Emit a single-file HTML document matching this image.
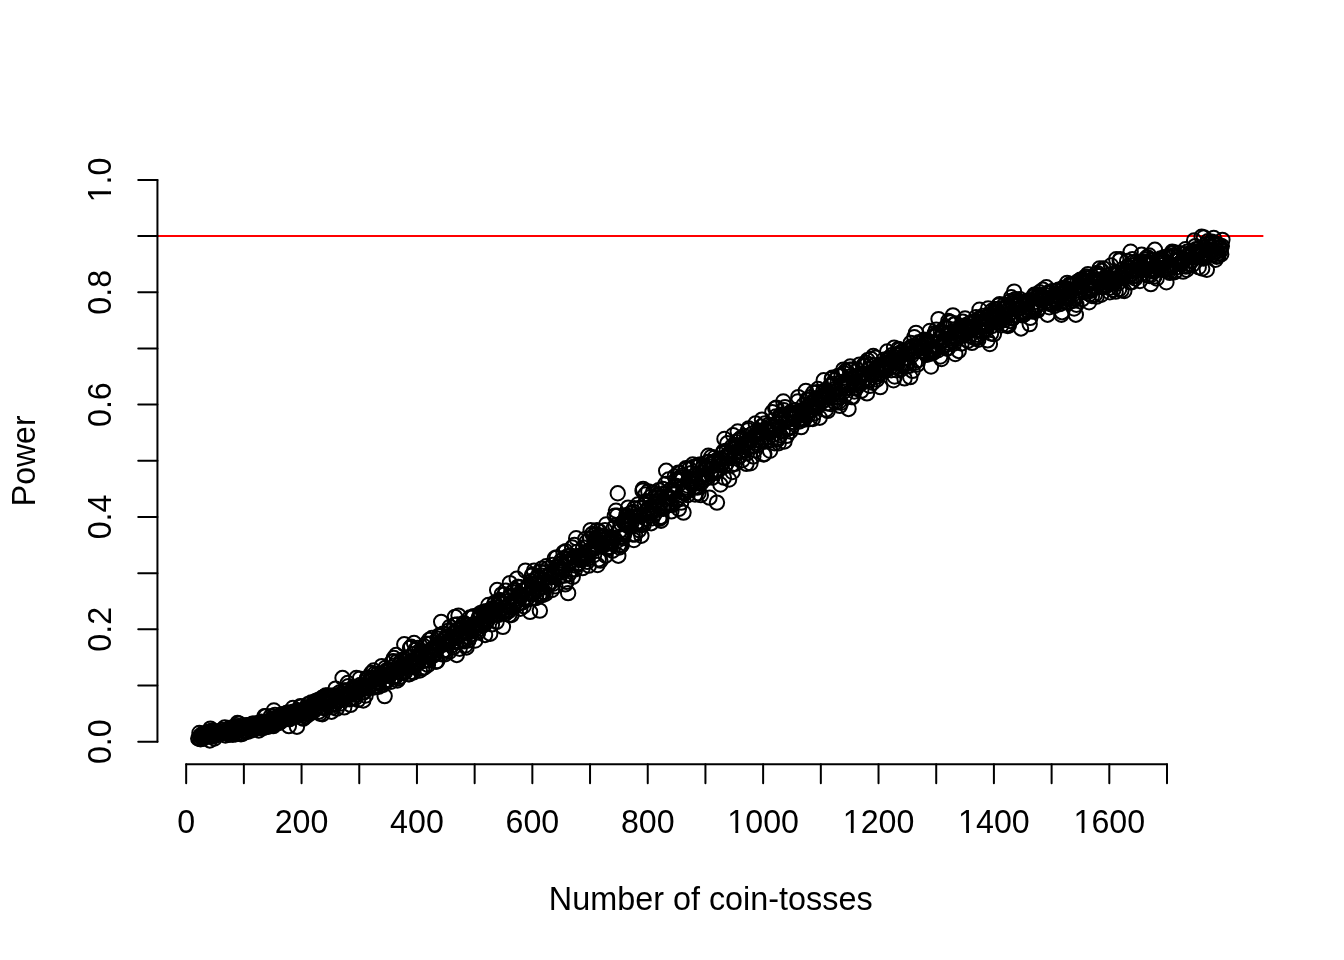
<!DOCTYPE html>
<html lang="en"><head><meta charset="utf-8"><title>Power vs number of coin-tosses</title>
<style>
html,body{margin:0;padding:0;background:#fff;}
body{width:1344px;height:960px;overflow:hidden;}
svg{display:block;}
text{font-family:"Liberation Sans",Arial,Helvetica,sans-serif;font-size:32px;fill:#000;}
</style></head><body>
<svg width="1344" height="960" viewBox="0 0 1344 960">
<rect width="1344" height="960" fill="#fff"/>
<line x1="157.44" y1="236.09" x2="1263.36" y2="236.09" stroke="#ff0000" stroke-width="2"/>
<g fill="none" stroke="#000" stroke-width="2">
<circle cx="198.29" cy="738.57" r="7.2"/>
<circle cx="198.86" cy="738.57" r="7.2"/>
<circle cx="199.44" cy="732.95" r="7.2"/>
<circle cx="200.02" cy="736.07" r="7.2"/>
<circle cx="200.59" cy="739.19" r="7.2"/>
<circle cx="201.17" cy="735.45" r="7.2"/>
<circle cx="201.75" cy="736.07" r="7.2"/>
<circle cx="202.32" cy="738.57" r="7.2"/>
<circle cx="202.90" cy="733.58" r="7.2"/>
<circle cx="203.48" cy="738.57" r="7.2"/>
<circle cx="204.06" cy="734.20" r="7.2"/>
<circle cx="204.63" cy="734.82" r="7.2"/>
<circle cx="205.21" cy="736.70" r="7.2"/>
<circle cx="205.79" cy="733.58" r="7.2"/>
<circle cx="206.36" cy="734.20" r="7.2"/>
<circle cx="206.94" cy="732.95" r="7.2"/>
<circle cx="207.52" cy="735.45" r="7.2"/>
<circle cx="208.09" cy="734.82" r="7.2"/>
<circle cx="208.67" cy="731.70" r="7.2"/>
<circle cx="209.25" cy="735.45" r="7.2"/>
<circle cx="209.83" cy="740.44" r="7.2"/>
<circle cx="210.40" cy="728.58" r="7.2"/>
<circle cx="210.98" cy="736.07" r="7.2"/>
<circle cx="211.56" cy="736.70" r="7.2"/>
<circle cx="212.13" cy="730.45" r="7.2"/>
<circle cx="212.71" cy="734.82" r="7.2"/>
<circle cx="213.29" cy="732.33" r="7.2"/>
<circle cx="213.86" cy="732.33" r="7.2"/>
<circle cx="214.44" cy="738.57" r="7.2"/>
<circle cx="215.02" cy="731.70" r="7.2"/>
<circle cx="215.59" cy="735.45" r="7.2"/>
<circle cx="216.17" cy="734.82" r="7.2"/>
<circle cx="216.75" cy="732.33" r="7.2"/>
<circle cx="217.33" cy="731.70" r="7.2"/>
<circle cx="217.90" cy="734.20" r="7.2"/>
<circle cx="218.48" cy="733.58" r="7.2"/>
<circle cx="219.06" cy="732.33" r="7.2"/>
<circle cx="219.63" cy="731.70" r="7.2"/>
<circle cx="220.21" cy="733.58" r="7.2"/>
<circle cx="220.79" cy="733.58" r="7.2"/>
<circle cx="221.36" cy="731.70" r="7.2"/>
<circle cx="221.94" cy="729.83" r="7.2"/>
<circle cx="222.52" cy="731.70" r="7.2"/>
<circle cx="223.10" cy="732.33" r="7.2"/>
<circle cx="223.67" cy="731.70" r="7.2"/>
<circle cx="224.25" cy="731.70" r="7.2"/>
<circle cx="224.83" cy="727.33" r="7.2"/>
<circle cx="225.40" cy="735.45" r="7.2"/>
<circle cx="225.98" cy="731.70" r="7.2"/>
<circle cx="226.56" cy="731.70" r="7.2"/>
<circle cx="227.13" cy="732.95" r="7.2"/>
<circle cx="227.71" cy="732.95" r="7.2"/>
<circle cx="228.29" cy="730.45" r="7.2"/>
<circle cx="228.87" cy="734.82" r="7.2"/>
<circle cx="229.44" cy="727.96" r="7.2"/>
<circle cx="230.02" cy="734.20" r="7.2"/>
<circle cx="230.60" cy="729.21" r="7.2"/>
<circle cx="231.17" cy="732.33" r="7.2"/>
<circle cx="231.75" cy="727.96" r="7.2"/>
<circle cx="232.33" cy="732.95" r="7.2"/>
<circle cx="232.90" cy="734.82" r="7.2"/>
<circle cx="233.48" cy="727.96" r="7.2"/>
<circle cx="234.06" cy="729.83" r="7.2"/>
<circle cx="234.63" cy="727.96" r="7.2"/>
<circle cx="235.21" cy="726.71" r="7.2"/>
<circle cx="235.79" cy="734.20" r="7.2"/>
<circle cx="236.37" cy="726.71" r="7.2"/>
<circle cx="236.94" cy="733.58" r="7.2"/>
<circle cx="237.52" cy="722.96" r="7.2"/>
<circle cx="238.10" cy="729.83" r="7.2"/>
<circle cx="238.67" cy="726.09" r="7.2"/>
<circle cx="239.25" cy="723.59" r="7.2"/>
<circle cx="239.83" cy="729.21" r="7.2"/>
<circle cx="240.40" cy="726.09" r="7.2"/>
<circle cx="240.98" cy="734.20" r="7.2"/>
<circle cx="241.56" cy="727.96" r="7.2"/>
<circle cx="242.14" cy="732.95" r="7.2"/>
<circle cx="242.71" cy="733.58" r="7.2"/>
<circle cx="243.29" cy="730.45" r="7.2"/>
<circle cx="243.87" cy="727.33" r="7.2"/>
<circle cx="244.44" cy="730.45" r="7.2"/>
<circle cx="245.02" cy="731.08" r="7.2"/>
<circle cx="245.60" cy="726.09" r="7.2"/>
<circle cx="246.17" cy="725.46" r="7.2"/>
<circle cx="246.75" cy="725.46" r="7.2"/>
<circle cx="247.33" cy="725.46" r="7.2"/>
<circle cx="247.90" cy="731.70" r="7.2"/>
<circle cx="248.48" cy="725.46" r="7.2"/>
<circle cx="249.06" cy="726.71" r="7.2"/>
<circle cx="249.64" cy="729.83" r="7.2"/>
<circle cx="250.21" cy="726.09" r="7.2"/>
<circle cx="250.79" cy="730.45" r="7.2"/>
<circle cx="251.37" cy="725.46" r="7.2"/>
<circle cx="251.94" cy="727.33" r="7.2"/>
<circle cx="252.52" cy="723.59" r="7.2"/>
<circle cx="253.10" cy="727.33" r="7.2"/>
<circle cx="253.67" cy="723.59" r="7.2"/>
<circle cx="254.25" cy="729.21" r="7.2"/>
<circle cx="254.83" cy="728.58" r="7.2"/>
<circle cx="255.41" cy="728.58" r="7.2"/>
<circle cx="255.98" cy="727.96" r="7.2"/>
<circle cx="256.56" cy="723.59" r="7.2"/>
<circle cx="257.14" cy="724.21" r="7.2"/>
<circle cx="257.71" cy="726.71" r="7.2"/>
<circle cx="258.29" cy="725.46" r="7.2"/>
<circle cx="258.87" cy="730.45" r="7.2"/>
<circle cx="259.44" cy="722.34" r="7.2"/>
<circle cx="260.02" cy="727.96" r="7.2"/>
<circle cx="260.60" cy="724.21" r="7.2"/>
<circle cx="261.17" cy="721.72" r="7.2"/>
<circle cx="261.75" cy="726.09" r="7.2"/>
<circle cx="262.33" cy="726.09" r="7.2"/>
<circle cx="262.91" cy="727.33" r="7.2"/>
<circle cx="263.48" cy="727.96" r="7.2"/>
<circle cx="264.06" cy="725.46" r="7.2"/>
<circle cx="264.64" cy="716.10" r="7.2"/>
<circle cx="265.21" cy="722.96" r="7.2"/>
<circle cx="265.79" cy="716.10" r="7.2"/>
<circle cx="266.37" cy="721.72" r="7.2"/>
<circle cx="266.94" cy="725.46" r="7.2"/>
<circle cx="267.52" cy="721.72" r="7.2"/>
<circle cx="268.10" cy="726.71" r="7.2"/>
<circle cx="268.68" cy="721.09" r="7.2"/>
<circle cx="269.25" cy="726.09" r="7.2"/>
<circle cx="269.83" cy="721.09" r="7.2"/>
<circle cx="270.41" cy="724.21" r="7.2"/>
<circle cx="270.98" cy="716.10" r="7.2"/>
<circle cx="271.56" cy="722.34" r="7.2"/>
<circle cx="272.14" cy="725.46" r="7.2"/>
<circle cx="272.71" cy="719.22" r="7.2"/>
<circle cx="273.29" cy="726.09" r="7.2"/>
<circle cx="273.87" cy="710.48" r="7.2"/>
<circle cx="274.44" cy="722.34" r="7.2"/>
<circle cx="275.02" cy="714.85" r="7.2"/>
<circle cx="275.60" cy="721.72" r="7.2"/>
<circle cx="276.18" cy="719.84" r="7.2"/>
<circle cx="276.75" cy="722.34" r="7.2"/>
<circle cx="277.33" cy="716.72" r="7.2"/>
<circle cx="277.91" cy="719.22" r="7.2"/>
<circle cx="278.48" cy="722.34" r="7.2"/>
<circle cx="279.06" cy="722.96" r="7.2"/>
<circle cx="279.64" cy="718.59" r="7.2"/>
<circle cx="280.21" cy="716.10" r="7.2"/>
<circle cx="280.79" cy="721.72" r="7.2"/>
<circle cx="281.37" cy="717.35" r="7.2"/>
<circle cx="281.95" cy="714.23" r="7.2"/>
<circle cx="282.52" cy="716.10" r="7.2"/>
<circle cx="283.10" cy="716.10" r="7.2"/>
<circle cx="283.68" cy="715.47" r="7.2"/>
<circle cx="284.25" cy="718.59" r="7.2"/>
<circle cx="284.83" cy="717.97" r="7.2"/>
<circle cx="285.41" cy="718.59" r="7.2"/>
<circle cx="285.98" cy="716.72" r="7.2"/>
<circle cx="286.56" cy="712.98" r="7.2"/>
<circle cx="287.14" cy="714.85" r="7.2"/>
<circle cx="287.71" cy="717.97" r="7.2"/>
<circle cx="288.29" cy="712.35" r="7.2"/>
<circle cx="288.87" cy="726.09" r="7.2"/>
<circle cx="289.45" cy="719.22" r="7.2"/>
<circle cx="290.02" cy="718.59" r="7.2"/>
<circle cx="290.60" cy="713.60" r="7.2"/>
<circle cx="291.18" cy="717.35" r="7.2"/>
<circle cx="291.75" cy="713.60" r="7.2"/>
<circle cx="292.33" cy="716.72" r="7.2"/>
<circle cx="292.91" cy="707.98" r="7.2"/>
<circle cx="293.48" cy="711.73" r="7.2"/>
<circle cx="294.06" cy="715.47" r="7.2"/>
<circle cx="294.64" cy="716.10" r="7.2"/>
<circle cx="295.22" cy="713.60" r="7.2"/>
<circle cx="295.79" cy="716.72" r="7.2"/>
<circle cx="296.37" cy="711.73" r="7.2"/>
<circle cx="296.95" cy="726.71" r="7.2"/>
<circle cx="297.52" cy="713.60" r="7.2"/>
<circle cx="298.10" cy="710.48" r="7.2"/>
<circle cx="298.68" cy="715.47" r="7.2"/>
<circle cx="299.25" cy="711.73" r="7.2"/>
<circle cx="299.83" cy="713.60" r="7.2"/>
<circle cx="300.41" cy="706.11" r="7.2"/>
<circle cx="300.99" cy="706.73" r="7.2"/>
<circle cx="301.56" cy="713.60" r="7.2"/>
<circle cx="302.14" cy="717.97" r="7.2"/>
<circle cx="302.72" cy="715.47" r="7.2"/>
<circle cx="303.29" cy="718.59" r="7.2"/>
<circle cx="303.87" cy="711.73" r="7.2"/>
<circle cx="304.45" cy="711.73" r="7.2"/>
<circle cx="305.02" cy="708.61" r="7.2"/>
<circle cx="305.60" cy="716.72" r="7.2"/>
<circle cx="306.18" cy="713.60" r="7.2"/>
<circle cx="306.75" cy="711.10" r="7.2"/>
<circle cx="307.33" cy="709.23" r="7.2"/>
<circle cx="307.91" cy="704.24" r="7.2"/>
<circle cx="308.49" cy="711.73" r="7.2"/>
<circle cx="309.06" cy="714.23" r="7.2"/>
<circle cx="309.64" cy="707.36" r="7.2"/>
<circle cx="310.22" cy="708.61" r="7.2"/>
<circle cx="310.79" cy="711.73" r="7.2"/>
<circle cx="311.37" cy="702.37" r="7.2"/>
<circle cx="311.95" cy="706.73" r="7.2"/>
<circle cx="312.52" cy="704.24" r="7.2"/>
<circle cx="313.10" cy="705.49" r="7.2"/>
<circle cx="313.68" cy="711.10" r="7.2"/>
<circle cx="314.26" cy="702.99" r="7.2"/>
<circle cx="314.83" cy="707.98" r="7.2"/>
<circle cx="315.41" cy="701.12" r="7.2"/>
<circle cx="315.99" cy="701.74" r="7.2"/>
<circle cx="316.56" cy="701.12" r="7.2"/>
<circle cx="317.14" cy="707.98" r="7.2"/>
<circle cx="317.72" cy="702.99" r="7.2"/>
<circle cx="318.29" cy="699.87" r="7.2"/>
<circle cx="318.87" cy="711.73" r="7.2"/>
<circle cx="319.45" cy="701.74" r="7.2"/>
<circle cx="320.02" cy="713.60" r="7.2"/>
<circle cx="320.60" cy="703.61" r="7.2"/>
<circle cx="321.18" cy="699.87" r="7.2"/>
<circle cx="321.76" cy="698.00" r="7.2"/>
<circle cx="322.33" cy="714.23" r="7.2"/>
<circle cx="322.91" cy="707.36" r="7.2"/>
<circle cx="323.49" cy="707.98" r="7.2"/>
<circle cx="324.06" cy="696.75" r="7.2"/>
<circle cx="324.64" cy="699.87" r="7.2"/>
<circle cx="325.22" cy="703.61" r="7.2"/>
<circle cx="325.79" cy="695.50" r="7.2"/>
<circle cx="326.37" cy="707.98" r="7.2"/>
<circle cx="326.95" cy="697.37" r="7.2"/>
<circle cx="327.53" cy="702.37" r="7.2"/>
<circle cx="328.10" cy="695.50" r="7.2"/>
<circle cx="328.68" cy="702.37" r="7.2"/>
<circle cx="329.26" cy="699.24" r="7.2"/>
<circle cx="329.83" cy="701.74" r="7.2"/>
<circle cx="330.41" cy="696.75" r="7.2"/>
<circle cx="330.99" cy="696.12" r="7.2"/>
<circle cx="331.56" cy="711.73" r="7.2"/>
<circle cx="332.14" cy="696.12" r="7.2"/>
<circle cx="332.72" cy="707.36" r="7.2"/>
<circle cx="333.29" cy="695.50" r="7.2"/>
<circle cx="333.87" cy="703.61" r="7.2"/>
<circle cx="334.45" cy="704.86" r="7.2"/>
<circle cx="335.03" cy="704.24" r="7.2"/>
<circle cx="335.60" cy="688.63" r="7.2"/>
<circle cx="336.18" cy="699.87" r="7.2"/>
<circle cx="336.76" cy="708.61" r="7.2"/>
<circle cx="337.33" cy="701.12" r="7.2"/>
<circle cx="337.91" cy="697.37" r="7.2"/>
<circle cx="338.49" cy="700.49" r="7.2"/>
<circle cx="339.06" cy="700.49" r="7.2"/>
<circle cx="339.64" cy="692.38" r="7.2"/>
<circle cx="340.22" cy="703.61" r="7.2"/>
<circle cx="340.80" cy="694.88" r="7.2"/>
<circle cx="341.37" cy="693.63" r="7.2"/>
<circle cx="341.95" cy="694.25" r="7.2"/>
<circle cx="342.53" cy="678.02" r="7.2"/>
<circle cx="343.10" cy="699.24" r="7.2"/>
<circle cx="343.68" cy="696.12" r="7.2"/>
<circle cx="344.26" cy="707.36" r="7.2"/>
<circle cx="344.83" cy="690.51" r="7.2"/>
<circle cx="345.41" cy="696.12" r="7.2"/>
<circle cx="345.99" cy="690.51" r="7.2"/>
<circle cx="346.56" cy="694.88" r="7.2"/>
<circle cx="347.14" cy="695.50" r="7.2"/>
<circle cx="347.72" cy="683.02" r="7.2"/>
<circle cx="348.30" cy="686.14" r="7.2"/>
<circle cx="348.87" cy="694.25" r="7.2"/>
<circle cx="349.45" cy="699.24" r="7.2"/>
<circle cx="350.03" cy="693.00" r="7.2"/>
<circle cx="350.60" cy="704.86" r="7.2"/>
<circle cx="351.18" cy="692.38" r="7.2"/>
<circle cx="351.76" cy="694.25" r="7.2"/>
<circle cx="352.33" cy="698.62" r="7.2"/>
<circle cx="352.91" cy="688.01" r="7.2"/>
<circle cx="353.49" cy="690.51" r="7.2"/>
<circle cx="354.07" cy="688.63" r="7.2"/>
<circle cx="354.64" cy="688.63" r="7.2"/>
<circle cx="355.22" cy="698.00" r="7.2"/>
<circle cx="355.80" cy="694.88" r="7.2"/>
<circle cx="356.37" cy="678.02" r="7.2"/>
<circle cx="356.95" cy="692.38" r="7.2"/>
<circle cx="357.53" cy="691.13" r="7.2"/>
<circle cx="358.10" cy="699.87" r="7.2"/>
<circle cx="358.68" cy="688.01" r="7.2"/>
<circle cx="359.26" cy="690.51" r="7.2"/>
<circle cx="359.83" cy="678.65" r="7.2"/>
<circle cx="360.41" cy="684.89" r="7.2"/>
<circle cx="360.99" cy="687.38" r="7.2"/>
<circle cx="361.57" cy="686.14" r="7.2"/>
<circle cx="362.14" cy="689.26" r="7.2"/>
<circle cx="362.72" cy="692.38" r="7.2"/>
<circle cx="363.30" cy="700.49" r="7.2"/>
<circle cx="363.87" cy="692.38" r="7.2"/>
<circle cx="364.45" cy="688.01" r="7.2"/>
<circle cx="365.03" cy="688.63" r="7.2"/>
<circle cx="365.60" cy="695.50" r="7.2"/>
<circle cx="366.18" cy="685.51" r="7.2"/>
<circle cx="366.76" cy="678.65" r="7.2"/>
<circle cx="367.34" cy="678.02" r="7.2"/>
<circle cx="367.91" cy="686.76" r="7.2"/>
<circle cx="368.49" cy="678.02" r="7.2"/>
<circle cx="369.07" cy="688.01" r="7.2"/>
<circle cx="369.64" cy="686.14" r="7.2"/>
<circle cx="370.22" cy="681.14" r="7.2"/>
<circle cx="370.80" cy="680.52" r="7.2"/>
<circle cx="371.37" cy="673.03" r="7.2"/>
<circle cx="371.95" cy="678.65" r="7.2"/>
<circle cx="372.53" cy="687.38" r="7.2"/>
<circle cx="373.11" cy="677.40" r="7.2"/>
<circle cx="373.68" cy="670.53" r="7.2"/>
<circle cx="374.26" cy="687.38" r="7.2"/>
<circle cx="374.84" cy="673.65" r="7.2"/>
<circle cx="375.41" cy="683.64" r="7.2"/>
<circle cx="375.99" cy="681.77" r="7.2"/>
<circle cx="376.57" cy="679.27" r="7.2"/>
<circle cx="377.14" cy="686.14" r="7.2"/>
<circle cx="377.72" cy="673.65" r="7.2"/>
<circle cx="378.30" cy="681.77" r="7.2"/>
<circle cx="378.87" cy="686.76" r="7.2"/>
<circle cx="379.45" cy="678.02" r="7.2"/>
<circle cx="380.03" cy="678.65" r="7.2"/>
<circle cx="380.61" cy="677.40" r="7.2"/>
<circle cx="381.18" cy="673.65" r="7.2"/>
<circle cx="381.76" cy="666.16" r="7.2"/>
<circle cx="382.34" cy="675.52" r="7.2"/>
<circle cx="382.91" cy="684.89" r="7.2"/>
<circle cx="383.49" cy="676.77" r="7.2"/>
<circle cx="384.07" cy="681.77" r="7.2"/>
<circle cx="384.64" cy="696.12" r="7.2"/>
<circle cx="385.22" cy="668.03" r="7.2"/>
<circle cx="385.80" cy="681.14" r="7.2"/>
<circle cx="386.38" cy="670.53" r="7.2"/>
<circle cx="386.95" cy="681.14" r="7.2"/>
<circle cx="387.53" cy="679.89" r="7.2"/>
<circle cx="388.11" cy="675.52" r="7.2"/>
<circle cx="388.68" cy="669.91" r="7.2"/>
<circle cx="389.26" cy="673.65" r="7.2"/>
<circle cx="389.84" cy="674.90" r="7.2"/>
<circle cx="390.41" cy="669.91" r="7.2"/>
<circle cx="390.99" cy="681.77" r="7.2"/>
<circle cx="391.57" cy="673.65" r="7.2"/>
<circle cx="392.14" cy="661.79" r="7.2"/>
<circle cx="392.72" cy="677.40" r="7.2"/>
<circle cx="393.30" cy="661.17" r="7.2"/>
<circle cx="393.88" cy="658.05" r="7.2"/>
<circle cx="394.45" cy="676.77" r="7.2"/>
<circle cx="395.03" cy="665.54" r="7.2"/>
<circle cx="395.61" cy="676.77" r="7.2"/>
<circle cx="396.18" cy="654.93" r="7.2"/>
<circle cx="396.76" cy="661.79" r="7.2"/>
<circle cx="397.34" cy="680.52" r="7.2"/>
<circle cx="397.91" cy="669.28" r="7.2"/>
<circle cx="398.49" cy="678.65" r="7.2"/>
<circle cx="399.07" cy="664.91" r="7.2"/>
<circle cx="399.65" cy="676.77" r="7.2"/>
<circle cx="400.22" cy="666.79" r="7.2"/>
<circle cx="400.80" cy="667.41" r="7.2"/>
<circle cx="401.38" cy="672.40" r="7.2"/>
<circle cx="401.95" cy="659.92" r="7.2"/>
<circle cx="402.53" cy="666.16" r="7.2"/>
<circle cx="403.11" cy="673.03" r="7.2"/>
<circle cx="403.68" cy="668.03" r="7.2"/>
<circle cx="404.26" cy="644.31" r="7.2"/>
<circle cx="404.84" cy="672.40" r="7.2"/>
<circle cx="405.41" cy="661.79" r="7.2"/>
<circle cx="405.99" cy="664.29" r="7.2"/>
<circle cx="406.57" cy="666.79" r="7.2"/>
<circle cx="407.15" cy="665.54" r="7.2"/>
<circle cx="407.72" cy="657.42" r="7.2"/>
<circle cx="408.30" cy="674.28" r="7.2"/>
<circle cx="408.88" cy="663.04" r="7.2"/>
<circle cx="409.45" cy="674.28" r="7.2"/>
<circle cx="410.03" cy="648.06" r="7.2"/>
<circle cx="410.61" cy="665.54" r="7.2"/>
<circle cx="411.18" cy="646.81" r="7.2"/>
<circle cx="411.76" cy="671.78" r="7.2"/>
<circle cx="412.34" cy="666.79" r="7.2"/>
<circle cx="412.92" cy="654.30" r="7.2"/>
<circle cx="413.49" cy="672.40" r="7.2"/>
<circle cx="414.07" cy="643.07" r="7.2"/>
<circle cx="414.65" cy="664.91" r="7.2"/>
<circle cx="415.22" cy="649.93" r="7.2"/>
<circle cx="415.80" cy="664.91" r="7.2"/>
<circle cx="416.38" cy="663.67" r="7.2"/>
<circle cx="416.95" cy="656.80" r="7.2"/>
<circle cx="417.53" cy="648.06" r="7.2"/>
<circle cx="418.11" cy="662.42" r="7.2"/>
<circle cx="418.68" cy="659.30" r="7.2"/>
<circle cx="419.26" cy="651.18" r="7.2"/>
<circle cx="419.84" cy="670.53" r="7.2"/>
<circle cx="420.42" cy="653.68" r="7.2"/>
<circle cx="420.99" cy="657.42" r="7.2"/>
<circle cx="421.57" cy="651.18" r="7.2"/>
<circle cx="422.15" cy="668.66" r="7.2"/>
<circle cx="422.72" cy="661.17" r="7.2"/>
<circle cx="423.30" cy="656.17" r="7.2"/>
<circle cx="423.88" cy="646.19" r="7.2"/>
<circle cx="424.45" cy="667.41" r="7.2"/>
<circle cx="425.03" cy="651.81" r="7.2"/>
<circle cx="425.61" cy="656.80" r="7.2"/>
<circle cx="426.19" cy="643.69" r="7.2"/>
<circle cx="426.76" cy="654.93" r="7.2"/>
<circle cx="427.34" cy="659.92" r="7.2"/>
<circle cx="427.92" cy="664.91" r="7.2"/>
<circle cx="428.49" cy="660.54" r="7.2"/>
<circle cx="429.07" cy="639.95" r="7.2"/>
<circle cx="429.65" cy="654.30" r="7.2"/>
<circle cx="430.22" cy="643.69" r="7.2"/>
<circle cx="430.80" cy="649.93" r="7.2"/>
<circle cx="431.38" cy="656.80" r="7.2"/>
<circle cx="431.95" cy="638.07" r="7.2"/>
<circle cx="432.53" cy="655.55" r="7.2"/>
<circle cx="433.11" cy="648.06" r="7.2"/>
<circle cx="433.69" cy="650.56" r="7.2"/>
<circle cx="434.26" cy="654.93" r="7.2"/>
<circle cx="434.84" cy="653.05" r="7.2"/>
<circle cx="435.42" cy="648.68" r="7.2"/>
<circle cx="435.99" cy="661.79" r="7.2"/>
<circle cx="436.57" cy="649.93" r="7.2"/>
<circle cx="437.15" cy="661.17" r="7.2"/>
<circle cx="437.72" cy="638.70" r="7.2"/>
<circle cx="438.30" cy="644.31" r="7.2"/>
<circle cx="438.88" cy="635.58" r="7.2"/>
<circle cx="439.46" cy="646.19" r="7.2"/>
<circle cx="440.03" cy="635.58" r="7.2"/>
<circle cx="440.61" cy="636.20" r="7.2"/>
<circle cx="441.19" cy="621.84" r="7.2"/>
<circle cx="441.76" cy="654.30" r="7.2"/>
<circle cx="442.34" cy="644.31" r="7.2"/>
<circle cx="442.92" cy="633.70" r="7.2"/>
<circle cx="443.49" cy="650.56" r="7.2"/>
<circle cx="444.07" cy="639.32" r="7.2"/>
<circle cx="444.65" cy="644.31" r="7.2"/>
<circle cx="445.23" cy="654.30" r="7.2"/>
<circle cx="445.80" cy="649.93" r="7.2"/>
<circle cx="446.38" cy="638.70" r="7.2"/>
<circle cx="446.96" cy="641.19" r="7.2"/>
<circle cx="447.53" cy="636.82" r="7.2"/>
<circle cx="448.11" cy="643.07" r="7.2"/>
<circle cx="448.69" cy="630.58" r="7.2"/>
<circle cx="449.26" cy="651.81" r="7.2"/>
<circle cx="449.84" cy="626.84" r="7.2"/>
<circle cx="450.42" cy="640.57" r="7.2"/>
<circle cx="450.99" cy="639.95" r="7.2"/>
<circle cx="451.57" cy="645.56" r="7.2"/>
<circle cx="452.15" cy="637.45" r="7.2"/>
<circle cx="452.73" cy="633.70" r="7.2"/>
<circle cx="453.30" cy="647.44" r="7.2"/>
<circle cx="453.88" cy="633.70" r="7.2"/>
<circle cx="454.46" cy="624.96" r="7.2"/>
<circle cx="455.03" cy="616.85" r="7.2"/>
<circle cx="455.61" cy="637.45" r="7.2"/>
<circle cx="456.19" cy="642.44" r="7.2"/>
<circle cx="456.76" cy="654.93" r="7.2"/>
<circle cx="457.34" cy="624.34" r="7.2"/>
<circle cx="457.92" cy="629.33" r="7.2"/>
<circle cx="458.50" cy="615.60" r="7.2"/>
<circle cx="459.07" cy="635.58" r="7.2"/>
<circle cx="459.65" cy="648.68" r="7.2"/>
<circle cx="460.23" cy="633.70" r="7.2"/>
<circle cx="460.80" cy="629.33" r="7.2"/>
<circle cx="461.38" cy="639.32" r="7.2"/>
<circle cx="461.96" cy="627.46" r="7.2"/>
<circle cx="462.53" cy="631.83" r="7.2"/>
<circle cx="463.11" cy="639.95" r="7.2"/>
<circle cx="463.69" cy="623.09" r="7.2"/>
<circle cx="464.26" cy="641.19" r="7.2"/>
<circle cx="464.84" cy="623.72" r="7.2"/>
<circle cx="465.42" cy="645.56" r="7.2"/>
<circle cx="466.00" cy="628.09" r="7.2"/>
<circle cx="466.57" cy="647.44" r="7.2"/>
<circle cx="467.15" cy="624.96" r="7.2"/>
<circle cx="467.73" cy="633.08" r="7.2"/>
<circle cx="468.30" cy="640.57" r="7.2"/>
<circle cx="468.88" cy="628.71" r="7.2"/>
<circle cx="469.46" cy="637.45" r="7.2"/>
<circle cx="470.03" cy="617.47" r="7.2"/>
<circle cx="470.61" cy="634.33" r="7.2"/>
<circle cx="471.19" cy="629.96" r="7.2"/>
<circle cx="471.77" cy="631.21" r="7.2"/>
<circle cx="472.34" cy="617.47" r="7.2"/>
<circle cx="472.92" cy="627.46" r="7.2"/>
<circle cx="473.50" cy="616.23" r="7.2"/>
<circle cx="474.07" cy="626.21" r="7.2"/>
<circle cx="474.65" cy="623.72" r="7.2"/>
<circle cx="475.23" cy="640.57" r="7.2"/>
<circle cx="475.80" cy="628.71" r="7.2"/>
<circle cx="476.38" cy="624.96" r="7.2"/>
<circle cx="476.96" cy="630.58" r="7.2"/>
<circle cx="477.53" cy="624.96" r="7.2"/>
<circle cx="478.11" cy="632.46" r="7.2"/>
<circle cx="478.69" cy="618.72" r="7.2"/>
<circle cx="479.27" cy="616.85" r="7.2"/>
<circle cx="479.84" cy="623.72" r="7.2"/>
<circle cx="480.42" cy="613.10" r="7.2"/>
<circle cx="481.00" cy="614.98" r="7.2"/>
<circle cx="481.57" cy="624.34" r="7.2"/>
<circle cx="482.15" cy="620.60" r="7.2"/>
<circle cx="482.73" cy="625.59" r="7.2"/>
<circle cx="483.30" cy="611.86" r="7.2"/>
<circle cx="483.88" cy="621.84" r="7.2"/>
<circle cx="484.46" cy="614.98" r="7.2"/>
<circle cx="485.04" cy="634.95" r="7.2"/>
<circle cx="485.61" cy="623.09" r="7.2"/>
<circle cx="486.19" cy="611.23" r="7.2"/>
<circle cx="486.77" cy="613.10" r="7.2"/>
<circle cx="487.34" cy="620.60" r="7.2"/>
<circle cx="487.92" cy="616.23" r="7.2"/>
<circle cx="488.50" cy="604.99" r="7.2"/>
<circle cx="489.07" cy="612.48" r="7.2"/>
<circle cx="489.65" cy="616.85" r="7.2"/>
<circle cx="490.23" cy="633.70" r="7.2"/>
<circle cx="490.80" cy="609.36" r="7.2"/>
<circle cx="491.38" cy="611.86" r="7.2"/>
<circle cx="491.96" cy="624.34" r="7.2"/>
<circle cx="492.54" cy="610.61" r="7.2"/>
<circle cx="493.11" cy="608.11" r="7.2"/>
<circle cx="493.69" cy="614.98" r="7.2"/>
<circle cx="494.27" cy="604.37" r="7.2"/>
<circle cx="494.84" cy="602.49" r="7.2"/>
<circle cx="495.42" cy="610.61" r="7.2"/>
<circle cx="496.00" cy="611.23" r="7.2"/>
<circle cx="496.57" cy="621.84" r="7.2"/>
<circle cx="497.15" cy="590.01" r="7.2"/>
<circle cx="497.73" cy="607.49" r="7.2"/>
<circle cx="498.31" cy="614.98" r="7.2"/>
<circle cx="498.88" cy="601.87" r="7.2"/>
<circle cx="499.46" cy="600.00" r="7.2"/>
<circle cx="500.04" cy="611.23" r="7.2"/>
<circle cx="500.61" cy="601.25" r="7.2"/>
<circle cx="501.19" cy="601.87" r="7.2"/>
<circle cx="501.77" cy="594.38" r="7.2"/>
<circle cx="502.34" cy="611.86" r="7.2"/>
<circle cx="502.92" cy="626.84" r="7.2"/>
<circle cx="503.50" cy="608.11" r="7.2"/>
<circle cx="504.07" cy="610.61" r="7.2"/>
<circle cx="504.65" cy="594.38" r="7.2"/>
<circle cx="505.23" cy="613.73" r="7.2"/>
<circle cx="505.81" cy="590.63" r="7.2"/>
<circle cx="506.38" cy="611.23" r="7.2"/>
<circle cx="506.96" cy="601.25" r="7.2"/>
<circle cx="507.54" cy="609.98" r="7.2"/>
<circle cx="508.11" cy="605.61" r="7.2"/>
<circle cx="508.69" cy="611.23" r="7.2"/>
<circle cx="509.27" cy="614.98" r="7.2"/>
<circle cx="509.84" cy="583.14" r="7.2"/>
<circle cx="510.42" cy="596.25" r="7.2"/>
<circle cx="511.00" cy="596.25" r="7.2"/>
<circle cx="511.58" cy="614.98" r="7.2"/>
<circle cx="512.15" cy="605.61" r="7.2"/>
<circle cx="512.73" cy="604.99" r="7.2"/>
<circle cx="513.31" cy="607.49" r="7.2"/>
<circle cx="513.88" cy="590.63" r="7.2"/>
<circle cx="514.46" cy="599.37" r="7.2"/>
<circle cx="515.04" cy="590.01" r="7.2"/>
<circle cx="515.61" cy="602.49" r="7.2"/>
<circle cx="516.19" cy="601.25" r="7.2"/>
<circle cx="516.77" cy="578.77" r="7.2"/>
<circle cx="517.35" cy="604.37" r="7.2"/>
<circle cx="517.92" cy="586.89" r="7.2"/>
<circle cx="518.50" cy="586.89" r="7.2"/>
<circle cx="519.08" cy="595.00" r="7.2"/>
<circle cx="519.65" cy="587.51" r="7.2"/>
<circle cx="520.23" cy="608.74" r="7.2"/>
<circle cx="520.81" cy="596.88" r="7.2"/>
<circle cx="521.38" cy="595.00" r="7.2"/>
<circle cx="521.96" cy="595.00" r="7.2"/>
<circle cx="522.54" cy="602.49" r="7.2"/>
<circle cx="523.11" cy="590.63" r="7.2"/>
<circle cx="523.69" cy="606.24" r="7.2"/>
<circle cx="524.27" cy="598.12" r="7.2"/>
<circle cx="524.85" cy="589.39" r="7.2"/>
<circle cx="525.42" cy="570.66" r="7.2"/>
<circle cx="526.00" cy="600.00" r="7.2"/>
<circle cx="526.58" cy="589.39" r="7.2"/>
<circle cx="527.15" cy="598.12" r="7.2"/>
<circle cx="527.73" cy="586.89" r="7.2"/>
<circle cx="528.31" cy="587.51" r="7.2"/>
<circle cx="528.88" cy="585.02" r="7.2"/>
<circle cx="529.46" cy="592.51" r="7.2"/>
<circle cx="530.04" cy="611.86" r="7.2"/>
<circle cx="530.62" cy="598.75" r="7.2"/>
<circle cx="531.19" cy="581.27" r="7.2"/>
<circle cx="531.77" cy="575.65" r="7.2"/>
<circle cx="532.35" cy="593.75" r="7.2"/>
<circle cx="532.92" cy="574.40" r="7.2"/>
<circle cx="533.50" cy="593.75" r="7.2"/>
<circle cx="534.08" cy="570.66" r="7.2"/>
<circle cx="534.65" cy="583.14" r="7.2"/>
<circle cx="535.23" cy="579.40" r="7.2"/>
<circle cx="535.81" cy="598.12" r="7.2"/>
<circle cx="536.38" cy="594.38" r="7.2"/>
<circle cx="536.96" cy="590.01" r="7.2"/>
<circle cx="537.54" cy="576.90" r="7.2"/>
<circle cx="538.12" cy="589.39" r="7.2"/>
<circle cx="538.69" cy="584.39" r="7.2"/>
<circle cx="539.27" cy="595.63" r="7.2"/>
<circle cx="539.85" cy="610.61" r="7.2"/>
<circle cx="540.42" cy="571.91" r="7.2"/>
<circle cx="541.00" cy="594.38" r="7.2"/>
<circle cx="541.58" cy="568.79" r="7.2"/>
<circle cx="542.15" cy="575.65" r="7.2"/>
<circle cx="542.73" cy="595.00" r="7.2"/>
<circle cx="543.31" cy="580.02" r="7.2"/>
<circle cx="543.89" cy="591.88" r="7.2"/>
<circle cx="544.46" cy="586.89" r="7.2"/>
<circle cx="545.04" cy="572.53" r="7.2"/>
<circle cx="545.62" cy="593.75" r="7.2"/>
<circle cx="546.19" cy="566.29" r="7.2"/>
<circle cx="546.77" cy="576.28" r="7.2"/>
<circle cx="547.35" cy="568.79" r="7.2"/>
<circle cx="547.92" cy="585.02" r="7.2"/>
<circle cx="548.50" cy="584.39" r="7.2"/>
<circle cx="549.08" cy="583.14" r="7.2"/>
<circle cx="549.65" cy="575.03" r="7.2"/>
<circle cx="550.23" cy="583.14" r="7.2"/>
<circle cx="550.81" cy="577.53" r="7.2"/>
<circle cx="551.39" cy="573.16" r="7.2"/>
<circle cx="551.96" cy="590.01" r="7.2"/>
<circle cx="552.54" cy="565.04" r="7.2"/>
<circle cx="553.12" cy="583.77" r="7.2"/>
<circle cx="553.69" cy="575.65" r="7.2"/>
<circle cx="554.27" cy="576.90" r="7.2"/>
<circle cx="554.85" cy="558.18" r="7.2"/>
<circle cx="555.42" cy="586.26" r="7.2"/>
<circle cx="556.00" cy="566.91" r="7.2"/>
<circle cx="556.58" cy="557.55" r="7.2"/>
<circle cx="557.16" cy="570.04" r="7.2"/>
<circle cx="557.73" cy="566.91" r="7.2"/>
<circle cx="558.31" cy="571.91" r="7.2"/>
<circle cx="558.89" cy="566.91" r="7.2"/>
<circle cx="559.46" cy="576.90" r="7.2"/>
<circle cx="560.04" cy="568.79" r="7.2"/>
<circle cx="560.62" cy="569.41" r="7.2"/>
<circle cx="561.19" cy="560.67" r="7.2"/>
<circle cx="561.77" cy="572.53" r="7.2"/>
<circle cx="562.35" cy="563.17" r="7.2"/>
<circle cx="562.92" cy="569.41" r="7.2"/>
<circle cx="563.50" cy="552.56" r="7.2"/>
<circle cx="564.08" cy="558.18" r="7.2"/>
<circle cx="564.66" cy="575.65" r="7.2"/>
<circle cx="565.23" cy="584.39" r="7.2"/>
<circle cx="565.81" cy="551.31" r="7.2"/>
<circle cx="566.39" cy="581.89" r="7.2"/>
<circle cx="566.96" cy="559.42" r="7.2"/>
<circle cx="567.54" cy="556.30" r="7.2"/>
<circle cx="568.12" cy="593.13" r="7.2"/>
<circle cx="568.69" cy="574.40" r="7.2"/>
<circle cx="569.27" cy="563.79" r="7.2"/>
<circle cx="569.85" cy="561.92" r="7.2"/>
<circle cx="570.43" cy="560.67" r="7.2"/>
<circle cx="571.00" cy="555.68" r="7.2"/>
<circle cx="571.58" cy="570.04" r="7.2"/>
<circle cx="572.16" cy="547.56" r="7.2"/>
<circle cx="572.73" cy="576.90" r="7.2"/>
<circle cx="573.31" cy="557.55" r="7.2"/>
<circle cx="573.89" cy="556.93" r="7.2"/>
<circle cx="574.46" cy="545.07" r="7.2"/>
<circle cx="575.04" cy="569.41" r="7.2"/>
<circle cx="575.62" cy="565.67" r="7.2"/>
<circle cx="576.19" cy="538.20" r="7.2"/>
<circle cx="576.77" cy="551.93" r="7.2"/>
<circle cx="577.35" cy="564.42" r="7.2"/>
<circle cx="577.93" cy="556.30" r="7.2"/>
<circle cx="578.50" cy="556.30" r="7.2"/>
<circle cx="579.08" cy="563.17" r="7.2"/>
<circle cx="579.66" cy="555.68" r="7.2"/>
<circle cx="580.23" cy="559.42" r="7.2"/>
<circle cx="580.81" cy="560.05" r="7.2"/>
<circle cx="581.39" cy="555.68" r="7.2"/>
<circle cx="581.96" cy="558.80" r="7.2"/>
<circle cx="582.54" cy="568.16" r="7.2"/>
<circle cx="583.12" cy="547.56" r="7.2"/>
<circle cx="583.70" cy="556.93" r="7.2"/>
<circle cx="584.27" cy="555.68" r="7.2"/>
<circle cx="584.85" cy="556.30" r="7.2"/>
<circle cx="585.43" cy="538.83" r="7.2"/>
<circle cx="586.00" cy="556.93" r="7.2"/>
<circle cx="586.58" cy="541.95" r="7.2"/>
<circle cx="587.16" cy="561.92" r="7.2"/>
<circle cx="587.73" cy="558.80" r="7.2"/>
<circle cx="588.31" cy="550.68" r="7.2"/>
<circle cx="588.89" cy="565.67" r="7.2"/>
<circle cx="589.47" cy="551.31" r="7.2"/>
<circle cx="590.04" cy="538.83" r="7.2"/>
<circle cx="590.62" cy="530.09" r="7.2"/>
<circle cx="591.20" cy="550.06" r="7.2"/>
<circle cx="591.77" cy="548.81" r="7.2"/>
<circle cx="592.35" cy="533.83" r="7.2"/>
<circle cx="592.93" cy="549.44" r="7.2"/>
<circle cx="593.50" cy="535.70" r="7.2"/>
<circle cx="594.08" cy="555.05" r="7.2"/>
<circle cx="594.66" cy="545.07" r="7.2"/>
<circle cx="595.23" cy="540.07" r="7.2"/>
<circle cx="595.81" cy="544.44" r="7.2"/>
<circle cx="596.39" cy="538.20" r="7.2"/>
<circle cx="596.97" cy="530.09" r="7.2"/>
<circle cx="597.54" cy="565.04" r="7.2"/>
<circle cx="598.12" cy="536.33" r="7.2"/>
<circle cx="598.70" cy="559.42" r="7.2"/>
<circle cx="599.27" cy="531.33" r="7.2"/>
<circle cx="599.85" cy="544.44" r="7.2"/>
<circle cx="600.43" cy="560.67" r="7.2"/>
<circle cx="601.00" cy="535.70" r="7.2"/>
<circle cx="601.58" cy="544.44" r="7.2"/>
<circle cx="602.16" cy="539.45" r="7.2"/>
<circle cx="602.74" cy="545.69" r="7.2"/>
<circle cx="603.31" cy="539.45" r="7.2"/>
<circle cx="603.89" cy="539.45" r="7.2"/>
<circle cx="604.47" cy="536.33" r="7.2"/>
<circle cx="605.04" cy="530.09" r="7.2"/>
<circle cx="605.62" cy="555.68" r="7.2"/>
<circle cx="606.20" cy="524.47" r="7.2"/>
<circle cx="606.77" cy="543.82" r="7.2"/>
<circle cx="607.35" cy="548.19" r="7.2"/>
<circle cx="607.93" cy="542.57" r="7.2"/>
<circle cx="608.50" cy="543.19" r="7.2"/>
<circle cx="609.08" cy="547.56" r="7.2"/>
<circle cx="609.66" cy="541.95" r="7.2"/>
<circle cx="610.24" cy="546.94" r="7.2"/>
<circle cx="610.81" cy="540.70" r="7.2"/>
<circle cx="611.39" cy="537.58" r="7.2"/>
<circle cx="611.97" cy="543.19" r="7.2"/>
<circle cx="612.54" cy="550.68" r="7.2"/>
<circle cx="613.12" cy="537.58" r="7.2"/>
<circle cx="613.70" cy="528.21" r="7.2"/>
<circle cx="614.27" cy="538.20" r="7.2"/>
<circle cx="614.85" cy="515.73" r="7.2"/>
<circle cx="615.43" cy="525.72" r="7.2"/>
<circle cx="616.01" cy="510.74" r="7.2"/>
<circle cx="616.58" cy="541.32" r="7.2"/>
<circle cx="617.16" cy="515.73" r="7.2"/>
<circle cx="617.74" cy="493.26" r="7.2"/>
<circle cx="618.31" cy="555.68" r="7.2"/>
<circle cx="618.89" cy="545.07" r="7.2"/>
<circle cx="619.47" cy="547.56" r="7.2"/>
<circle cx="620.04" cy="530.71" r="7.2"/>
<circle cx="620.62" cy="545.69" r="7.2"/>
<circle cx="621.20" cy="523.84" r="7.2"/>
<circle cx="621.77" cy="545.07" r="7.2"/>
<circle cx="622.35" cy="536.33" r="7.2"/>
<circle cx="622.93" cy="538.20" r="7.2"/>
<circle cx="623.51" cy="521.97" r="7.2"/>
<circle cx="624.08" cy="534.46" r="7.2"/>
<circle cx="624.66" cy="520.72" r="7.2"/>
<circle cx="625.24" cy="519.47" r="7.2"/>
<circle cx="625.81" cy="523.84" r="7.2"/>
<circle cx="626.39" cy="515.11" r="7.2"/>
<circle cx="626.97" cy="516.35" r="7.2"/>
<circle cx="627.54" cy="525.72" r="7.2"/>
<circle cx="628.12" cy="507.62" r="7.2"/>
<circle cx="628.70" cy="523.84" r="7.2"/>
<circle cx="629.28" cy="518.85" r="7.2"/>
<circle cx="629.85" cy="520.10" r="7.2"/>
<circle cx="630.43" cy="513.23" r="7.2"/>
<circle cx="631.01" cy="516.98" r="7.2"/>
<circle cx="631.58" cy="522.60" r="7.2"/>
<circle cx="632.16" cy="513.23" r="7.2"/>
<circle cx="632.74" cy="534.46" r="7.2"/>
<circle cx="633.31" cy="511.98" r="7.2"/>
<circle cx="633.89" cy="540.07" r="7.2"/>
<circle cx="634.47" cy="508.24" r="7.2"/>
<circle cx="635.04" cy="534.46" r="7.2"/>
<circle cx="635.62" cy="523.84" r="7.2"/>
<circle cx="636.20" cy="516.35" r="7.2"/>
<circle cx="636.78" cy="524.47" r="7.2"/>
<circle cx="637.35" cy="521.97" r="7.2"/>
<circle cx="637.93" cy="504.49" r="7.2"/>
<circle cx="638.51" cy="516.35" r="7.2"/>
<circle cx="639.08" cy="530.09" r="7.2"/>
<circle cx="639.66" cy="508.24" r="7.2"/>
<circle cx="640.24" cy="523.22" r="7.2"/>
<circle cx="640.81" cy="525.09" r="7.2"/>
<circle cx="641.39" cy="535.70" r="7.2"/>
<circle cx="641.97" cy="524.47" r="7.2"/>
<circle cx="642.55" cy="490.76" r="7.2"/>
<circle cx="643.12" cy="488.89" r="7.2"/>
<circle cx="643.70" cy="524.47" r="7.2"/>
<circle cx="644.28" cy="514.48" r="7.2"/>
<circle cx="644.85" cy="503.87" r="7.2"/>
<circle cx="645.43" cy="494.51" r="7.2"/>
<circle cx="646.01" cy="518.85" r="7.2"/>
<circle cx="646.58" cy="501.37" r="7.2"/>
<circle cx="647.16" cy="509.49" r="7.2"/>
<circle cx="647.74" cy="510.74" r="7.2"/>
<circle cx="648.31" cy="491.39" r="7.2"/>
<circle cx="648.89" cy="507.62" r="7.2"/>
<circle cx="649.47" cy="515.73" r="7.2"/>
<circle cx="650.05" cy="513.23" r="7.2"/>
<circle cx="650.62" cy="497.00" r="7.2"/>
<circle cx="651.20" cy="523.22" r="7.2"/>
<circle cx="651.78" cy="510.74" r="7.2"/>
<circle cx="652.35" cy="518.23" r="7.2"/>
<circle cx="652.93" cy="492.63" r="7.2"/>
<circle cx="653.51" cy="511.36" r="7.2"/>
<circle cx="654.08" cy="506.37" r="7.2"/>
<circle cx="654.66" cy="513.86" r="7.2"/>
<circle cx="655.24" cy="501.37" r="7.2"/>
<circle cx="655.82" cy="503.25" r="7.2"/>
<circle cx="656.39" cy="495.76" r="7.2"/>
<circle cx="656.97" cy="504.49" r="7.2"/>
<circle cx="657.55" cy="497.63" r="7.2"/>
<circle cx="658.12" cy="495.13" r="7.2"/>
<circle cx="658.70" cy="490.14" r="7.2"/>
<circle cx="659.28" cy="518.85" r="7.2"/>
<circle cx="659.85" cy="506.37" r="7.2"/>
<circle cx="660.43" cy="516.98" r="7.2"/>
<circle cx="661.01" cy="520.72" r="7.2"/>
<circle cx="661.59" cy="516.98" r="7.2"/>
<circle cx="662.16" cy="508.24" r="7.2"/>
<circle cx="662.74" cy="488.89" r="7.2"/>
<circle cx="663.32" cy="508.86" r="7.2"/>
<circle cx="663.89" cy="506.37" r="7.2"/>
<circle cx="664.47" cy="493.26" r="7.2"/>
<circle cx="665.05" cy="493.88" r="7.2"/>
<circle cx="665.62" cy="483.90" r="7.2"/>
<circle cx="666.20" cy="470.79" r="7.2"/>
<circle cx="666.78" cy="497.63" r="7.2"/>
<circle cx="667.35" cy="505.12" r="7.2"/>
<circle cx="667.93" cy="496.38" r="7.2"/>
<circle cx="668.51" cy="479.53" r="7.2"/>
<circle cx="669.09" cy="497.00" r="7.2"/>
<circle cx="669.66" cy="502.62" r="7.2"/>
<circle cx="670.24" cy="504.49" r="7.2"/>
<circle cx="670.82" cy="489.51" r="7.2"/>
<circle cx="671.39" cy="511.36" r="7.2"/>
<circle cx="671.97" cy="505.12" r="7.2"/>
<circle cx="672.55" cy="493.26" r="7.2"/>
<circle cx="673.12" cy="490.14" r="7.2"/>
<circle cx="673.70" cy="490.14" r="7.2"/>
<circle cx="674.28" cy="494.51" r="7.2"/>
<circle cx="674.86" cy="476.41" r="7.2"/>
<circle cx="675.43" cy="485.77" r="7.2"/>
<circle cx="676.01" cy="479.53" r="7.2"/>
<circle cx="676.59" cy="500.12" r="7.2"/>
<circle cx="677.16" cy="498.25" r="7.2"/>
<circle cx="677.74" cy="480.77" r="7.2"/>
<circle cx="678.32" cy="472.66" r="7.2"/>
<circle cx="678.89" cy="508.86" r="7.2"/>
<circle cx="679.47" cy="480.15" r="7.2"/>
<circle cx="680.05" cy="473.28" r="7.2"/>
<circle cx="680.62" cy="477.65" r="7.2"/>
<circle cx="681.20" cy="502.62" r="7.2"/>
<circle cx="681.78" cy="475.78" r="7.2"/>
<circle cx="682.36" cy="479.53" r="7.2"/>
<circle cx="682.93" cy="492.01" r="7.2"/>
<circle cx="683.51" cy="512.61" r="7.2"/>
<circle cx="684.09" cy="493.26" r="7.2"/>
<circle cx="684.66" cy="493.26" r="7.2"/>
<circle cx="685.24" cy="493.26" r="7.2"/>
<circle cx="685.82" cy="468.29" r="7.2"/>
<circle cx="686.39" cy="468.91" r="7.2"/>
<circle cx="686.97" cy="487.64" r="7.2"/>
<circle cx="687.55" cy="495.13" r="7.2"/>
<circle cx="688.13" cy="485.77" r="7.2"/>
<circle cx="688.70" cy="489.51" r="7.2"/>
<circle cx="689.28" cy="468.91" r="7.2"/>
<circle cx="689.86" cy="482.65" r="7.2"/>
<circle cx="690.43" cy="482.02" r="7.2"/>
<circle cx="691.01" cy="473.28" r="7.2"/>
<circle cx="691.59" cy="478.90" r="7.2"/>
<circle cx="692.16" cy="483.90" r="7.2"/>
<circle cx="692.74" cy="464.55" r="7.2"/>
<circle cx="693.32" cy="467.04" r="7.2"/>
<circle cx="693.89" cy="487.02" r="7.2"/>
<circle cx="694.47" cy="475.78" r="7.2"/>
<circle cx="695.05" cy="494.51" r="7.2"/>
<circle cx="695.63" cy="474.53" r="7.2"/>
<circle cx="696.20" cy="487.02" r="7.2"/>
<circle cx="696.78" cy="483.27" r="7.2"/>
<circle cx="697.36" cy="487.64" r="7.2"/>
<circle cx="697.93" cy="465.17" r="7.2"/>
<circle cx="698.51" cy="493.26" r="7.2"/>
<circle cx="699.09" cy="477.65" r="7.2"/>
<circle cx="699.66" cy="477.03" r="7.2"/>
<circle cx="700.24" cy="464.55" r="7.2"/>
<circle cx="700.82" cy="495.13" r="7.2"/>
<circle cx="701.40" cy="482.65" r="7.2"/>
<circle cx="701.97" cy="480.15" r="7.2"/>
<circle cx="702.55" cy="477.03" r="7.2"/>
<circle cx="703.13" cy="467.04" r="7.2"/>
<circle cx="703.70" cy="465.17" r="7.2"/>
<circle cx="704.28" cy="479.53" r="7.2"/>
<circle cx="704.86" cy="468.91" r="7.2"/>
<circle cx="705.43" cy="474.53" r="7.2"/>
<circle cx="706.01" cy="468.29" r="7.2"/>
<circle cx="706.59" cy="474.53" r="7.2"/>
<circle cx="707.16" cy="477.65" r="7.2"/>
<circle cx="707.74" cy="462.05" r="7.2"/>
<circle cx="708.32" cy="455.81" r="7.2"/>
<circle cx="708.90" cy="462.05" r="7.2"/>
<circle cx="709.47" cy="497.63" r="7.2"/>
<circle cx="710.05" cy="464.55" r="7.2"/>
<circle cx="710.63" cy="473.28" r="7.2"/>
<circle cx="711.20" cy="457.05" r="7.2"/>
<circle cx="711.78" cy="466.42" r="7.2"/>
<circle cx="712.36" cy="477.65" r="7.2"/>
<circle cx="712.93" cy="462.67" r="7.2"/>
<circle cx="713.51" cy="462.05" r="7.2"/>
<circle cx="714.09" cy="472.66" r="7.2"/>
<circle cx="714.67" cy="457.68" r="7.2"/>
<circle cx="715.24" cy="472.66" r="7.2"/>
<circle cx="715.82" cy="460.80" r="7.2"/>
<circle cx="716.40" cy="470.79" r="7.2"/>
<circle cx="716.97" cy="502.62" r="7.2"/>
<circle cx="717.55" cy="469.54" r="7.2"/>
<circle cx="718.13" cy="463.92" r="7.2"/>
<circle cx="718.70" cy="462.67" r="7.2"/>
<circle cx="719.28" cy="463.30" r="7.2"/>
<circle cx="719.86" cy="458.93" r="7.2"/>
<circle cx="720.43" cy="484.52" r="7.2"/>
<circle cx="721.01" cy="465.17" r="7.2"/>
<circle cx="721.59" cy="465.17" r="7.2"/>
<circle cx="722.17" cy="459.55" r="7.2"/>
<circle cx="722.74" cy="453.31" r="7.2"/>
<circle cx="723.32" cy="451.44" r="7.2"/>
<circle cx="723.90" cy="477.65" r="7.2"/>
<circle cx="724.47" cy="438.95" r="7.2"/>
<circle cx="725.05" cy="465.79" r="7.2"/>
<circle cx="725.63" cy="456.43" r="7.2"/>
<circle cx="726.20" cy="463.92" r="7.2"/>
<circle cx="726.78" cy="450.81" r="7.2"/>
<circle cx="727.36" cy="443.32" r="7.2"/>
<circle cx="727.94" cy="457.05" r="7.2"/>
<circle cx="728.51" cy="453.93" r="7.2"/>
<circle cx="729.09" cy="479.53" r="7.2"/>
<circle cx="729.67" cy="453.93" r="7.2"/>
<circle cx="730.24" cy="455.81" r="7.2"/>
<circle cx="730.82" cy="453.31" r="7.2"/>
<circle cx="731.40" cy="465.17" r="7.2"/>
<circle cx="731.97" cy="446.44" r="7.2"/>
<circle cx="732.55" cy="472.04" r="7.2"/>
<circle cx="733.13" cy="435.21" r="7.2"/>
<circle cx="733.71" cy="456.43" r="7.2"/>
<circle cx="734.28" cy="446.44" r="7.2"/>
<circle cx="734.86" cy="463.92" r="7.2"/>
<circle cx="735.44" cy="452.69" r="7.2"/>
<circle cx="736.01" cy="442.07" r="7.2"/>
<circle cx="736.59" cy="445.20" r="7.2"/>
<circle cx="737.17" cy="446.44" r="7.2"/>
<circle cx="737.74" cy="431.46" r="7.2"/>
<circle cx="738.32" cy="440.20" r="7.2"/>
<circle cx="738.90" cy="457.05" r="7.2"/>
<circle cx="739.47" cy="452.06" r="7.2"/>
<circle cx="740.05" cy="455.81" r="7.2"/>
<circle cx="740.63" cy="438.95" r="7.2"/>
<circle cx="741.21" cy="437.70" r="7.2"/>
<circle cx="741.78" cy="446.44" r="7.2"/>
<circle cx="742.36" cy="460.18" r="7.2"/>
<circle cx="742.94" cy="449.56" r="7.2"/>
<circle cx="743.51" cy="445.20" r="7.2"/>
<circle cx="744.09" cy="435.83" r="7.2"/>
<circle cx="744.67" cy="443.32" r="7.2"/>
<circle cx="745.24" cy="444.57" r="7.2"/>
<circle cx="745.82" cy="443.95" r="7.2"/>
<circle cx="746.40" cy="463.92" r="7.2"/>
<circle cx="746.98" cy="453.31" r="7.2"/>
<circle cx="747.55" cy="448.32" r="7.2"/>
<circle cx="748.13" cy="430.21" r="7.2"/>
<circle cx="748.71" cy="428.34" r="7.2"/>
<circle cx="749.28" cy="440.83" r="7.2"/>
<circle cx="749.86" cy="438.95" r="7.2"/>
<circle cx="750.44" cy="463.30" r="7.2"/>
<circle cx="751.01" cy="440.83" r="7.2"/>
<circle cx="751.59" cy="445.82" r="7.2"/>
<circle cx="752.17" cy="446.44" r="7.2"/>
<circle cx="752.74" cy="433.34" r="7.2"/>
<circle cx="753.32" cy="456.43" r="7.2"/>
<circle cx="753.90" cy="436.46" r="7.2"/>
<circle cx="754.48" cy="445.82" r="7.2"/>
<circle cx="755.05" cy="450.19" r="7.2"/>
<circle cx="755.63" cy="423.35" r="7.2"/>
<circle cx="756.21" cy="434.58" r="7.2"/>
<circle cx="756.78" cy="440.20" r="7.2"/>
<circle cx="757.36" cy="430.21" r="7.2"/>
<circle cx="757.94" cy="445.20" r="7.2"/>
<circle cx="758.51" cy="432.09" r="7.2"/>
<circle cx="759.09" cy="433.96" r="7.2"/>
<circle cx="759.67" cy="437.70" r="7.2"/>
<circle cx="760.25" cy="431.46" r="7.2"/>
<circle cx="760.82" cy="440.83" r="7.2"/>
<circle cx="761.40" cy="426.47" r="7.2"/>
<circle cx="761.98" cy="419.60" r="7.2"/>
<circle cx="762.55" cy="432.71" r="7.2"/>
<circle cx="763.13" cy="437.70" r="7.2"/>
<circle cx="763.71" cy="454.56" r="7.2"/>
<circle cx="764.28" cy="453.93" r="7.2"/>
<circle cx="764.86" cy="423.35" r="7.2"/>
<circle cx="765.44" cy="441.45" r="7.2"/>
<circle cx="766.01" cy="429.59" r="7.2"/>
<circle cx="766.59" cy="428.34" r="7.2"/>
<circle cx="767.17" cy="430.84" r="7.2"/>
<circle cx="767.75" cy="430.21" r="7.2"/>
<circle cx="768.32" cy="437.70" r="7.2"/>
<circle cx="768.90" cy="424.60" r="7.2"/>
<circle cx="769.48" cy="430.21" r="7.2"/>
<circle cx="770.05" cy="450.81" r="7.2"/>
<circle cx="770.63" cy="432.09" r="7.2"/>
<circle cx="771.21" cy="440.20" r="7.2"/>
<circle cx="771.78" cy="425.22" r="7.2"/>
<circle cx="772.36" cy="412.11" r="7.2"/>
<circle cx="772.94" cy="430.21" r="7.2"/>
<circle cx="773.52" cy="427.72" r="7.2"/>
<circle cx="774.09" cy="434.58" r="7.2"/>
<circle cx="774.67" cy="443.32" r="7.2"/>
<circle cx="775.25" cy="408.37" r="7.2"/>
<circle cx="775.82" cy="416.48" r="7.2"/>
<circle cx="776.40" cy="407.74" r="7.2"/>
<circle cx="776.98" cy="423.35" r="7.2"/>
<circle cx="777.55" cy="439.58" r="7.2"/>
<circle cx="778.13" cy="437.70" r="7.2"/>
<circle cx="778.71" cy="443.32" r="7.2"/>
<circle cx="779.28" cy="426.47" r="7.2"/>
<circle cx="779.86" cy="415.86" r="7.2"/>
<circle cx="780.44" cy="435.21" r="7.2"/>
<circle cx="781.02" cy="417.73" r="7.2"/>
<circle cx="781.59" cy="414.61" r="7.2"/>
<circle cx="782.17" cy="418.98" r="7.2"/>
<circle cx="782.75" cy="431.46" r="7.2"/>
<circle cx="783.32" cy="401.50" r="7.2"/>
<circle cx="783.90" cy="410.24" r="7.2"/>
<circle cx="784.48" cy="441.45" r="7.2"/>
<circle cx="785.05" cy="407.12" r="7.2"/>
<circle cx="785.63" cy="415.23" r="7.2"/>
<circle cx="786.21" cy="420.85" r="7.2"/>
<circle cx="786.79" cy="435.83" r="7.2"/>
<circle cx="787.36" cy="428.34" r="7.2"/>
<circle cx="787.94" cy="428.34" r="7.2"/>
<circle cx="788.52" cy="427.72" r="7.2"/>
<circle cx="789.09" cy="417.73" r="7.2"/>
<circle cx="789.67" cy="412.74" r="7.2"/>
<circle cx="790.25" cy="431.46" r="7.2"/>
<circle cx="790.82" cy="413.36" r="7.2"/>
<circle cx="791.40" cy="427.72" r="7.2"/>
<circle cx="791.98" cy="415.86" r="7.2"/>
<circle cx="792.55" cy="418.98" r="7.2"/>
<circle cx="793.13" cy="416.48" r="7.2"/>
<circle cx="793.71" cy="422.10" r="7.2"/>
<circle cx="794.29" cy="417.73" r="7.2"/>
<circle cx="794.86" cy="414.61" r="7.2"/>
<circle cx="795.44" cy="410.24" r="7.2"/>
<circle cx="796.02" cy="412.11" r="7.2"/>
<circle cx="796.59" cy="416.48" r="7.2"/>
<circle cx="797.17" cy="413.36" r="7.2"/>
<circle cx="797.75" cy="401.50" r="7.2"/>
<circle cx="798.32" cy="397.13" r="7.2"/>
<circle cx="798.90" cy="419.60" r="7.2"/>
<circle cx="799.48" cy="421.48" r="7.2"/>
<circle cx="800.06" cy="418.35" r="7.2"/>
<circle cx="800.63" cy="419.60" r="7.2"/>
<circle cx="801.21" cy="427.09" r="7.2"/>
<circle cx="801.79" cy="413.36" r="7.2"/>
<circle cx="802.36" cy="418.98" r="7.2"/>
<circle cx="802.94" cy="415.23" r="7.2"/>
<circle cx="803.52" cy="405.25" r="7.2"/>
<circle cx="804.09" cy="419.60" r="7.2"/>
<circle cx="804.67" cy="410.86" r="7.2"/>
<circle cx="805.25" cy="415.23" r="7.2"/>
<circle cx="805.83" cy="390.89" r="7.2"/>
<circle cx="806.40" cy="407.74" r="7.2"/>
<circle cx="806.98" cy="399.63" r="7.2"/>
<circle cx="807.56" cy="411.49" r="7.2"/>
<circle cx="808.13" cy="415.23" r="7.2"/>
<circle cx="808.71" cy="399.63" r="7.2"/>
<circle cx="809.29" cy="405.87" r="7.2"/>
<circle cx="809.86" cy="418.98" r="7.2"/>
<circle cx="810.44" cy="397.13" r="7.2"/>
<circle cx="811.02" cy="405.87" r="7.2"/>
<circle cx="811.59" cy="410.24" r="7.2"/>
<circle cx="812.17" cy="407.12" r="7.2"/>
<circle cx="812.75" cy="418.98" r="7.2"/>
<circle cx="813.33" cy="392.76" r="7.2"/>
<circle cx="813.90" cy="404.62" r="7.2"/>
<circle cx="814.48" cy="413.36" r="7.2"/>
<circle cx="815.06" cy="399.00" r="7.2"/>
<circle cx="815.63" cy="407.12" r="7.2"/>
<circle cx="816.21" cy="407.74" r="7.2"/>
<circle cx="816.79" cy="392.14" r="7.2"/>
<circle cx="817.36" cy="404.00" r="7.2"/>
<circle cx="817.94" cy="389.02" r="7.2"/>
<circle cx="818.52" cy="404.62" r="7.2"/>
<circle cx="819.10" cy="397.76" r="7.2"/>
<circle cx="819.67" cy="417.73" r="7.2"/>
<circle cx="820.25" cy="397.76" r="7.2"/>
<circle cx="820.83" cy="397.13" r="7.2"/>
<circle cx="821.40" cy="402.13" r="7.2"/>
<circle cx="821.98" cy="398.38" r="7.2"/>
<circle cx="822.56" cy="396.51" r="7.2"/>
<circle cx="823.13" cy="391.51" r="7.2"/>
<circle cx="823.71" cy="380.28" r="7.2"/>
<circle cx="824.29" cy="400.25" r="7.2"/>
<circle cx="824.86" cy="396.51" r="7.2"/>
<circle cx="825.44" cy="390.89" r="7.2"/>
<circle cx="826.02" cy="409.62" r="7.2"/>
<circle cx="826.60" cy="392.76" r="7.2"/>
<circle cx="827.17" cy="403.37" r="7.2"/>
<circle cx="827.75" cy="410.86" r="7.2"/>
<circle cx="828.33" cy="394.01" r="7.2"/>
<circle cx="828.90" cy="397.76" r="7.2"/>
<circle cx="829.48" cy="395.88" r="7.2"/>
<circle cx="830.06" cy="385.90" r="7.2"/>
<circle cx="830.63" cy="404.00" r="7.2"/>
<circle cx="831.21" cy="385.27" r="7.2"/>
<circle cx="831.79" cy="379.03" r="7.2"/>
<circle cx="832.37" cy="377.78" r="7.2"/>
<circle cx="832.94" cy="384.02" r="7.2"/>
<circle cx="833.52" cy="389.64" r="7.2"/>
<circle cx="834.10" cy="401.50" r="7.2"/>
<circle cx="834.67" cy="380.28" r="7.2"/>
<circle cx="835.25" cy="402.75" r="7.2"/>
<circle cx="835.83" cy="391.51" r="7.2"/>
<circle cx="836.40" cy="394.63" r="7.2"/>
<circle cx="836.98" cy="396.51" r="7.2"/>
<circle cx="837.56" cy="397.76" r="7.2"/>
<circle cx="838.13" cy="375.91" r="7.2"/>
<circle cx="838.71" cy="394.01" r="7.2"/>
<circle cx="839.29" cy="401.50" r="7.2"/>
<circle cx="839.87" cy="405.87" r="7.2"/>
<circle cx="840.44" cy="382.15" r="7.2"/>
<circle cx="841.02" cy="402.75" r="7.2"/>
<circle cx="841.60" cy="375.28" r="7.2"/>
<circle cx="842.17" cy="384.65" r="7.2"/>
<circle cx="842.75" cy="385.27" r="7.2"/>
<circle cx="843.33" cy="369.67" r="7.2"/>
<circle cx="843.90" cy="391.51" r="7.2"/>
<circle cx="844.48" cy="373.41" r="7.2"/>
<circle cx="845.06" cy="395.26" r="7.2"/>
<circle cx="845.64" cy="370.92" r="7.2"/>
<circle cx="846.21" cy="388.39" r="7.2"/>
<circle cx="846.79" cy="388.39" r="7.2"/>
<circle cx="847.37" cy="379.65" r="7.2"/>
<circle cx="847.94" cy="382.78" r="7.2"/>
<circle cx="848.52" cy="408.99" r="7.2"/>
<circle cx="849.10" cy="384.65" r="7.2"/>
<circle cx="849.67" cy="369.67" r="7.2"/>
<circle cx="850.25" cy="366.55" r="7.2"/>
<circle cx="850.83" cy="376.53" r="7.2"/>
<circle cx="851.40" cy="397.13" r="7.2"/>
<circle cx="851.98" cy="369.67" r="7.2"/>
<circle cx="852.56" cy="397.13" r="7.2"/>
<circle cx="853.14" cy="377.78" r="7.2"/>
<circle cx="853.71" cy="384.02" r="7.2"/>
<circle cx="854.29" cy="391.51" r="7.2"/>
<circle cx="854.87" cy="388.39" r="7.2"/>
<circle cx="855.44" cy="384.65" r="7.2"/>
<circle cx="856.02" cy="382.78" r="7.2"/>
<circle cx="856.60" cy="387.77" r="7.2"/>
<circle cx="857.17" cy="383.40" r="7.2"/>
<circle cx="857.75" cy="370.29" r="7.2"/>
<circle cx="858.33" cy="377.16" r="7.2"/>
<circle cx="858.91" cy="381.53" r="7.2"/>
<circle cx="859.48" cy="364.67" r="7.2"/>
<circle cx="860.06" cy="374.04" r="7.2"/>
<circle cx="860.64" cy="375.28" r="7.2"/>
<circle cx="861.21" cy="390.89" r="7.2"/>
<circle cx="861.79" cy="382.78" r="7.2"/>
<circle cx="862.37" cy="373.41" r="7.2"/>
<circle cx="862.94" cy="382.15" r="7.2"/>
<circle cx="863.52" cy="365.30" r="7.2"/>
<circle cx="864.10" cy="375.28" r="7.2"/>
<circle cx="864.67" cy="379.65" r="7.2"/>
<circle cx="865.25" cy="365.92" r="7.2"/>
<circle cx="865.83" cy="362.80" r="7.2"/>
<circle cx="866.41" cy="377.78" r="7.2"/>
<circle cx="866.98" cy="393.39" r="7.2"/>
<circle cx="867.56" cy="360.30" r="7.2"/>
<circle cx="868.14" cy="379.65" r="7.2"/>
<circle cx="868.71" cy="380.90" r="7.2"/>
<circle cx="869.29" cy="369.04" r="7.2"/>
<circle cx="869.87" cy="385.90" r="7.2"/>
<circle cx="870.44" cy="364.67" r="7.2"/>
<circle cx="871.02" cy="359.06" r="7.2"/>
<circle cx="871.60" cy="374.66" r="7.2"/>
<circle cx="872.18" cy="374.66" r="7.2"/>
<circle cx="872.75" cy="382.78" r="7.2"/>
<circle cx="873.33" cy="355.93" r="7.2"/>
<circle cx="873.91" cy="372.16" r="7.2"/>
<circle cx="874.48" cy="365.30" r="7.2"/>
<circle cx="875.06" cy="374.66" r="7.2"/>
<circle cx="875.64" cy="357.81" r="7.2"/>
<circle cx="876.21" cy="367.79" r="7.2"/>
<circle cx="876.79" cy="379.65" r="7.2"/>
<circle cx="877.37" cy="376.53" r="7.2"/>
<circle cx="877.95" cy="369.67" r="7.2"/>
<circle cx="878.52" cy="367.17" r="7.2"/>
<circle cx="879.10" cy="373.41" r="7.2"/>
<circle cx="879.68" cy="374.04" r="7.2"/>
<circle cx="880.25" cy="387.14" r="7.2"/>
<circle cx="880.83" cy="368.42" r="7.2"/>
<circle cx="881.41" cy="370.92" r="7.2"/>
<circle cx="881.98" cy="367.17" r="7.2"/>
<circle cx="882.56" cy="367.79" r="7.2"/>
<circle cx="883.14" cy="364.05" r="7.2"/>
<circle cx="883.71" cy="359.68" r="7.2"/>
<circle cx="884.29" cy="370.29" r="7.2"/>
<circle cx="884.87" cy="367.17" r="7.2"/>
<circle cx="885.45" cy="369.67" r="7.2"/>
<circle cx="886.02" cy="370.29" r="7.2"/>
<circle cx="886.60" cy="368.42" r="7.2"/>
<circle cx="887.18" cy="351.57" r="7.2"/>
<circle cx="887.75" cy="362.18" r="7.2"/>
<circle cx="888.33" cy="359.06" r="7.2"/>
<circle cx="888.91" cy="364.05" r="7.2"/>
<circle cx="889.48" cy="357.81" r="7.2"/>
<circle cx="890.06" cy="367.79" r="7.2"/>
<circle cx="890.64" cy="363.42" r="7.2"/>
<circle cx="891.22" cy="370.29" r="7.2"/>
<circle cx="891.79" cy="355.31" r="7.2"/>
<circle cx="892.37" cy="360.30" r="7.2"/>
<circle cx="892.95" cy="359.06" r="7.2"/>
<circle cx="893.52" cy="380.28" r="7.2"/>
<circle cx="894.10" cy="347.82" r="7.2"/>
<circle cx="894.68" cy="376.53" r="7.2"/>
<circle cx="895.25" cy="362.80" r="7.2"/>
<circle cx="895.83" cy="355.31" r="7.2"/>
<circle cx="896.41" cy="370.29" r="7.2"/>
<circle cx="896.98" cy="366.55" r="7.2"/>
<circle cx="897.56" cy="354.06" r="7.2"/>
<circle cx="898.14" cy="349.07" r="7.2"/>
<circle cx="898.72" cy="359.06" r="7.2"/>
<circle cx="899.29" cy="354.69" r="7.2"/>
<circle cx="899.87" cy="349.69" r="7.2"/>
<circle cx="900.45" cy="369.67" r="7.2"/>
<circle cx="901.02" cy="352.19" r="7.2"/>
<circle cx="901.60" cy="352.19" r="7.2"/>
<circle cx="902.18" cy="351.57" r="7.2"/>
<circle cx="902.75" cy="364.05" r="7.2"/>
<circle cx="903.33" cy="359.06" r="7.2"/>
<circle cx="903.91" cy="363.42" r="7.2"/>
<circle cx="904.49" cy="378.41" r="7.2"/>
<circle cx="905.06" cy="354.06" r="7.2"/>
<circle cx="905.64" cy="357.81" r="7.2"/>
<circle cx="906.22" cy="364.05" r="7.2"/>
<circle cx="906.79" cy="366.55" r="7.2"/>
<circle cx="907.37" cy="363.42" r="7.2"/>
<circle cx="907.95" cy="353.44" r="7.2"/>
<circle cx="908.52" cy="350.94" r="7.2"/>
<circle cx="909.10" cy="365.92" r="7.2"/>
<circle cx="909.68" cy="348.44" r="7.2"/>
<circle cx="910.25" cy="377.16" r="7.2"/>
<circle cx="910.83" cy="342.83" r="7.2"/>
<circle cx="911.41" cy="346.57" r="7.2"/>
<circle cx="911.99" cy="355.31" r="7.2"/>
<circle cx="912.56" cy="370.92" r="7.2"/>
<circle cx="913.14" cy="352.19" r="7.2"/>
<circle cx="913.72" cy="347.20" r="7.2"/>
<circle cx="914.29" cy="337.21" r="7.2"/>
<circle cx="914.87" cy="362.80" r="7.2"/>
<circle cx="915.45" cy="350.94" r="7.2"/>
<circle cx="916.02" cy="332.84" r="7.2"/>
<circle cx="916.60" cy="346.57" r="7.2"/>
<circle cx="917.18" cy="364.67" r="7.2"/>
<circle cx="917.76" cy="360.30" r="7.2"/>
<circle cx="918.33" cy="343.45" r="7.2"/>
<circle cx="918.91" cy="342.20" r="7.2"/>
<circle cx="919.49" cy="346.57" r="7.2"/>
<circle cx="920.06" cy="347.20" r="7.2"/>
<circle cx="920.64" cy="348.44" r="7.2"/>
<circle cx="921.22" cy="342.83" r="7.2"/>
<circle cx="921.79" cy="350.94" r="7.2"/>
<circle cx="922.37" cy="347.82" r="7.2"/>
<circle cx="922.95" cy="350.94" r="7.2"/>
<circle cx="923.52" cy="351.57" r="7.2"/>
<circle cx="924.10" cy="339.71" r="7.2"/>
<circle cx="924.68" cy="344.07" r="7.2"/>
<circle cx="925.26" cy="347.82" r="7.2"/>
<circle cx="925.83" cy="352.81" r="7.2"/>
<circle cx="926.41" cy="340.33" r="7.2"/>
<circle cx="926.99" cy="354.69" r="7.2"/>
<circle cx="927.56" cy="344.07" r="7.2"/>
<circle cx="928.14" cy="341.58" r="7.2"/>
<circle cx="928.72" cy="350.32" r="7.2"/>
<circle cx="929.29" cy="350.32" r="7.2"/>
<circle cx="929.87" cy="330.97" r="7.2"/>
<circle cx="930.45" cy="352.19" r="7.2"/>
<circle cx="931.03" cy="366.55" r="7.2"/>
<circle cx="931.60" cy="353.44" r="7.2"/>
<circle cx="932.18" cy="351.57" r="7.2"/>
<circle cx="932.76" cy="350.32" r="7.2"/>
<circle cx="933.33" cy="352.81" r="7.2"/>
<circle cx="933.91" cy="336.58" r="7.2"/>
<circle cx="934.49" cy="333.46" r="7.2"/>
<circle cx="935.06" cy="350.32" r="7.2"/>
<circle cx="935.64" cy="335.96" r="7.2"/>
<circle cx="936.22" cy="329.72" r="7.2"/>
<circle cx="936.79" cy="334.09" r="7.2"/>
<circle cx="937.37" cy="334.09" r="7.2"/>
<circle cx="937.95" cy="350.32" r="7.2"/>
<circle cx="938.53" cy="319.11" r="7.2"/>
<circle cx="939.10" cy="338.46" r="7.2"/>
<circle cx="939.68" cy="342.20" r="7.2"/>
<circle cx="940.26" cy="356.56" r="7.2"/>
<circle cx="940.83" cy="331.59" r="7.2"/>
<circle cx="941.41" cy="359.06" r="7.2"/>
<circle cx="941.99" cy="346.57" r="7.2"/>
<circle cx="942.56" cy="332.21" r="7.2"/>
<circle cx="943.14" cy="332.84" r="7.2"/>
<circle cx="943.72" cy="340.33" r="7.2"/>
<circle cx="944.30" cy="339.08" r="7.2"/>
<circle cx="944.87" cy="327.85" r="7.2"/>
<circle cx="945.45" cy="345.32" r="7.2"/>
<circle cx="946.03" cy="327.85" r="7.2"/>
<circle cx="946.60" cy="348.44" r="7.2"/>
<circle cx="947.18" cy="333.46" r="7.2"/>
<circle cx="947.76" cy="348.44" r="7.2"/>
<circle cx="948.33" cy="320.98" r="7.2"/>
<circle cx="948.91" cy="338.46" r="7.2"/>
<circle cx="949.49" cy="322.23" r="7.2"/>
<circle cx="950.07" cy="343.45" r="7.2"/>
<circle cx="950.64" cy="322.23" r="7.2"/>
<circle cx="951.22" cy="332.21" r="7.2"/>
<circle cx="951.80" cy="332.21" r="7.2"/>
<circle cx="952.37" cy="340.33" r="7.2"/>
<circle cx="952.95" cy="315.36" r="7.2"/>
<circle cx="953.53" cy="324.72" r="7.2"/>
<circle cx="954.10" cy="343.45" r="7.2"/>
<circle cx="954.68" cy="335.96" r="7.2"/>
<circle cx="955.26" cy="354.06" r="7.2"/>
<circle cx="955.83" cy="323.48" r="7.2"/>
<circle cx="956.41" cy="339.08" r="7.2"/>
<circle cx="956.99" cy="330.34" r="7.2"/>
<circle cx="957.57" cy="331.59" r="7.2"/>
<circle cx="958.14" cy="335.34" r="7.2"/>
<circle cx="958.72" cy="350.94" r="7.2"/>
<circle cx="959.30" cy="333.46" r="7.2"/>
<circle cx="959.87" cy="330.97" r="7.2"/>
<circle cx="960.45" cy="330.34" r="7.2"/>
<circle cx="961.03" cy="335.96" r="7.2"/>
<circle cx="961.60" cy="343.45" r="7.2"/>
<circle cx="962.18" cy="329.09" r="7.2"/>
<circle cx="962.76" cy="321.60" r="7.2"/>
<circle cx="963.34" cy="335.34" r="7.2"/>
<circle cx="963.91" cy="325.97" r="7.2"/>
<circle cx="964.49" cy="328.47" r="7.2"/>
<circle cx="965.07" cy="318.48" r="7.2"/>
<circle cx="965.64" cy="325.35" r="7.2"/>
<circle cx="966.22" cy="327.22" r="7.2"/>
<circle cx="966.80" cy="327.22" r="7.2"/>
<circle cx="967.37" cy="326.60" r="7.2"/>
<circle cx="967.95" cy="340.95" r="7.2"/>
<circle cx="968.53" cy="330.97" r="7.2"/>
<circle cx="969.10" cy="323.48" r="7.2"/>
<circle cx="969.68" cy="335.96" r="7.2"/>
<circle cx="970.26" cy="330.97" r="7.2"/>
<circle cx="970.84" cy="326.60" r="7.2"/>
<circle cx="971.41" cy="330.34" r="7.2"/>
<circle cx="971.99" cy="342.83" r="7.2"/>
<circle cx="972.57" cy="326.60" r="7.2"/>
<circle cx="973.14" cy="329.09" r="7.2"/>
<circle cx="973.72" cy="322.85" r="7.2"/>
<circle cx="974.30" cy="337.83" r="7.2"/>
<circle cx="974.87" cy="326.60" r="7.2"/>
<circle cx="975.45" cy="320.98" r="7.2"/>
<circle cx="976.03" cy="317.23" r="7.2"/>
<circle cx="976.61" cy="337.83" r="7.2"/>
<circle cx="977.18" cy="334.71" r="7.2"/>
<circle cx="977.76" cy="337.21" r="7.2"/>
<circle cx="978.34" cy="339.71" r="7.2"/>
<circle cx="978.91" cy="329.72" r="7.2"/>
<circle cx="979.49" cy="309.74" r="7.2"/>
<circle cx="980.07" cy="317.86" r="7.2"/>
<circle cx="980.64" cy="322.85" r="7.2"/>
<circle cx="981.22" cy="322.23" r="7.2"/>
<circle cx="981.80" cy="319.11" r="7.2"/>
<circle cx="982.37" cy="331.59" r="7.2"/>
<circle cx="982.95" cy="315.99" r="7.2"/>
<circle cx="983.53" cy="324.10" r="7.2"/>
<circle cx="984.11" cy="322.23" r="7.2"/>
<circle cx="984.68" cy="330.34" r="7.2"/>
<circle cx="985.26" cy="325.35" r="7.2"/>
<circle cx="985.84" cy="325.97" r="7.2"/>
<circle cx="986.41" cy="329.09" r="7.2"/>
<circle cx="986.99" cy="316.61" r="7.2"/>
<circle cx="987.57" cy="340.33" r="7.2"/>
<circle cx="988.14" cy="308.50" r="7.2"/>
<circle cx="988.72" cy="324.72" r="7.2"/>
<circle cx="989.30" cy="315.36" r="7.2"/>
<circle cx="989.88" cy="344.07" r="7.2"/>
<circle cx="990.45" cy="315.36" r="7.2"/>
<circle cx="991.03" cy="333.46" r="7.2"/>
<circle cx="991.61" cy="310.99" r="7.2"/>
<circle cx="992.18" cy="325.97" r="7.2"/>
<circle cx="992.76" cy="317.23" r="7.2"/>
<circle cx="993.34" cy="320.36" r="7.2"/>
<circle cx="993.91" cy="334.09" r="7.2"/>
<circle cx="994.49" cy="312.86" r="7.2"/>
<circle cx="995.07" cy="309.12" r="7.2"/>
<circle cx="995.64" cy="315.99" r="7.2"/>
<circle cx="996.22" cy="309.12" r="7.2"/>
<circle cx="996.80" cy="312.86" r="7.2"/>
<circle cx="997.38" cy="317.23" r="7.2"/>
<circle cx="997.95" cy="312.24" r="7.2"/>
<circle cx="998.53" cy="305.37" r="7.2"/>
<circle cx="999.11" cy="322.23" r="7.2"/>
<circle cx="999.68" cy="304.13" r="7.2"/>
<circle cx="1000.26" cy="308.50" r="7.2"/>
<circle cx="1000.84" cy="319.73" r="7.2"/>
<circle cx="1001.41" cy="325.35" r="7.2"/>
<circle cx="1001.99" cy="317.23" r="7.2"/>
<circle cx="1002.57" cy="314.11" r="7.2"/>
<circle cx="1003.15" cy="309.74" r="7.2"/>
<circle cx="1003.72" cy="318.48" r="7.2"/>
<circle cx="1004.30" cy="304.75" r="7.2"/>
<circle cx="1004.88" cy="315.36" r="7.2"/>
<circle cx="1005.45" cy="319.73" r="7.2"/>
<circle cx="1006.03" cy="306.62" r="7.2"/>
<circle cx="1006.61" cy="324.72" r="7.2"/>
<circle cx="1007.18" cy="310.99" r="7.2"/>
<circle cx="1007.76" cy="325.97" r="7.2"/>
<circle cx="1008.34" cy="315.36" r="7.2"/>
<circle cx="1008.91" cy="325.35" r="7.2"/>
<circle cx="1009.49" cy="313.49" r="7.2"/>
<circle cx="1010.07" cy="320.98" r="7.2"/>
<circle cx="1010.65" cy="301.00" r="7.2"/>
<circle cx="1011.22" cy="297.26" r="7.2"/>
<circle cx="1011.80" cy="303.50" r="7.2"/>
<circle cx="1012.38" cy="318.48" r="7.2"/>
<circle cx="1012.95" cy="317.86" r="7.2"/>
<circle cx="1013.53" cy="305.37" r="7.2"/>
<circle cx="1014.11" cy="291.64" r="7.2"/>
<circle cx="1014.68" cy="299.76" r="7.2"/>
<circle cx="1015.26" cy="302.25" r="7.2"/>
<circle cx="1015.84" cy="299.13" r="7.2"/>
<circle cx="1016.42" cy="309.74" r="7.2"/>
<circle cx="1016.99" cy="304.75" r="7.2"/>
<circle cx="1017.57" cy="308.50" r="7.2"/>
<circle cx="1018.15" cy="304.75" r="7.2"/>
<circle cx="1018.72" cy="302.25" r="7.2"/>
<circle cx="1019.30" cy="301.63" r="7.2"/>
<circle cx="1019.88" cy="299.13" r="7.2"/>
<circle cx="1020.45" cy="304.13" r="7.2"/>
<circle cx="1021.03" cy="328.47" r="7.2"/>
<circle cx="1021.61" cy="312.24" r="7.2"/>
<circle cx="1022.19" cy="315.36" r="7.2"/>
<circle cx="1022.76" cy="305.37" r="7.2"/>
<circle cx="1023.34" cy="305.37" r="7.2"/>
<circle cx="1023.92" cy="314.74" r="7.2"/>
<circle cx="1024.49" cy="312.86" r="7.2"/>
<circle cx="1025.07" cy="312.24" r="7.2"/>
<circle cx="1025.65" cy="309.74" r="7.2"/>
<circle cx="1026.22" cy="301.00" r="7.2"/>
<circle cx="1026.80" cy="304.13" r="7.2"/>
<circle cx="1027.38" cy="302.88" r="7.2"/>
<circle cx="1027.95" cy="310.99" r="7.2"/>
<circle cx="1028.53" cy="302.25" r="7.2"/>
<circle cx="1029.11" cy="300.38" r="7.2"/>
<circle cx="1029.69" cy="324.10" r="7.2"/>
<circle cx="1030.26" cy="317.86" r="7.2"/>
<circle cx="1030.84" cy="307.87" r="7.2"/>
<circle cx="1031.42" cy="310.37" r="7.2"/>
<circle cx="1031.99" cy="310.99" r="7.2"/>
<circle cx="1032.57" cy="309.12" r="7.2"/>
<circle cx="1033.15" cy="311.62" r="7.2"/>
<circle cx="1033.72" cy="302.25" r="7.2"/>
<circle cx="1034.30" cy="294.76" r="7.2"/>
<circle cx="1034.88" cy="296.01" r="7.2"/>
<circle cx="1035.46" cy="307.87" r="7.2"/>
<circle cx="1036.03" cy="297.88" r="7.2"/>
<circle cx="1036.61" cy="304.75" r="7.2"/>
<circle cx="1037.19" cy="298.51" r="7.2"/>
<circle cx="1037.76" cy="310.37" r="7.2"/>
<circle cx="1038.34" cy="308.50" r="7.2"/>
<circle cx="1038.92" cy="295.39" r="7.2"/>
<circle cx="1039.49" cy="292.27" r="7.2"/>
<circle cx="1040.07" cy="294.76" r="7.2"/>
<circle cx="1040.65" cy="297.88" r="7.2"/>
<circle cx="1041.22" cy="299.13" r="7.2"/>
<circle cx="1041.80" cy="300.38" r="7.2"/>
<circle cx="1042.38" cy="296.64" r="7.2"/>
<circle cx="1042.96" cy="289.77" r="7.2"/>
<circle cx="1043.53" cy="299.76" r="7.2"/>
<circle cx="1044.11" cy="297.26" r="7.2"/>
<circle cx="1044.69" cy="298.51" r="7.2"/>
<circle cx="1045.26" cy="298.51" r="7.2"/>
<circle cx="1045.84" cy="297.88" r="7.2"/>
<circle cx="1046.42" cy="287.27" r="7.2"/>
<circle cx="1046.99" cy="295.39" r="7.2"/>
<circle cx="1047.57" cy="314.74" r="7.2"/>
<circle cx="1048.15" cy="303.50" r="7.2"/>
<circle cx="1048.73" cy="292.27" r="7.2"/>
<circle cx="1049.30" cy="307.25" r="7.2"/>
<circle cx="1049.88" cy="292.89" r="7.2"/>
<circle cx="1050.46" cy="292.89" r="7.2"/>
<circle cx="1051.03" cy="302.88" r="7.2"/>
<circle cx="1051.61" cy="304.13" r="7.2"/>
<circle cx="1052.19" cy="304.13" r="7.2"/>
<circle cx="1052.76" cy="291.02" r="7.2"/>
<circle cx="1053.34" cy="298.51" r="7.2"/>
<circle cx="1053.92" cy="296.01" r="7.2"/>
<circle cx="1054.49" cy="306.00" r="7.2"/>
<circle cx="1055.07" cy="294.14" r="7.2"/>
<circle cx="1055.65" cy="301.00" r="7.2"/>
<circle cx="1056.23" cy="302.88" r="7.2"/>
<circle cx="1056.80" cy="295.39" r="7.2"/>
<circle cx="1057.38" cy="291.02" r="7.2"/>
<circle cx="1057.96" cy="300.38" r="7.2"/>
<circle cx="1058.53" cy="289.77" r="7.2"/>
<circle cx="1059.11" cy="296.01" r="7.2"/>
<circle cx="1059.69" cy="304.13" r="7.2"/>
<circle cx="1060.26" cy="297.26" r="7.2"/>
<circle cx="1060.84" cy="290.39" r="7.2"/>
<circle cx="1061.42" cy="314.74" r="7.2"/>
<circle cx="1062.00" cy="312.24" r="7.2"/>
<circle cx="1062.57" cy="289.77" r="7.2"/>
<circle cx="1063.15" cy="287.90" r="7.2"/>
<circle cx="1063.73" cy="287.90" r="7.2"/>
<circle cx="1064.30" cy="293.51" r="7.2"/>
<circle cx="1064.88" cy="302.25" r="7.2"/>
<circle cx="1065.46" cy="290.39" r="7.2"/>
<circle cx="1066.03" cy="296.01" r="7.2"/>
<circle cx="1066.61" cy="288.52" r="7.2"/>
<circle cx="1067.19" cy="282.90" r="7.2"/>
<circle cx="1067.76" cy="299.13" r="7.2"/>
<circle cx="1068.34" cy="302.25" r="7.2"/>
<circle cx="1068.92" cy="297.88" r="7.2"/>
<circle cx="1069.50" cy="293.51" r="7.2"/>
<circle cx="1070.07" cy="284.15" r="7.2"/>
<circle cx="1070.65" cy="291.64" r="7.2"/>
<circle cx="1071.23" cy="290.39" r="7.2"/>
<circle cx="1071.80" cy="284.15" r="7.2"/>
<circle cx="1072.38" cy="285.40" r="7.2"/>
<circle cx="1072.96" cy="298.51" r="7.2"/>
<circle cx="1073.53" cy="300.38" r="7.2"/>
<circle cx="1074.11" cy="308.50" r="7.2"/>
<circle cx="1074.69" cy="293.51" r="7.2"/>
<circle cx="1075.27" cy="298.51" r="7.2"/>
<circle cx="1075.84" cy="314.74" r="7.2"/>
<circle cx="1076.42" cy="304.75" r="7.2"/>
<circle cx="1077.00" cy="287.90" r="7.2"/>
<circle cx="1077.57" cy="281.65" r="7.2"/>
<circle cx="1078.15" cy="286.02" r="7.2"/>
<circle cx="1078.73" cy="290.39" r="7.2"/>
<circle cx="1079.30" cy="284.78" r="7.2"/>
<circle cx="1079.88" cy="280.41" r="7.2"/>
<circle cx="1080.46" cy="279.78" r="7.2"/>
<circle cx="1081.03" cy="282.90" r="7.2"/>
<circle cx="1081.61" cy="281.65" r="7.2"/>
<circle cx="1082.19" cy="299.13" r="7.2"/>
<circle cx="1082.77" cy="279.78" r="7.2"/>
<circle cx="1083.34" cy="279.78" r="7.2"/>
<circle cx="1083.92" cy="281.03" r="7.2"/>
<circle cx="1084.50" cy="291.64" r="7.2"/>
<circle cx="1085.07" cy="292.27" r="7.2"/>
<circle cx="1085.65" cy="276.66" r="7.2"/>
<circle cx="1086.23" cy="278.53" r="7.2"/>
<circle cx="1086.80" cy="281.03" r="7.2"/>
<circle cx="1087.38" cy="276.66" r="7.2"/>
<circle cx="1087.96" cy="274.16" r="7.2"/>
<circle cx="1088.54" cy="284.78" r="7.2"/>
<circle cx="1089.11" cy="302.25" r="7.2"/>
<circle cx="1089.69" cy="294.14" r="7.2"/>
<circle cx="1090.27" cy="291.02" r="7.2"/>
<circle cx="1090.84" cy="288.52" r="7.2"/>
<circle cx="1091.42" cy="282.90" r="7.2"/>
<circle cx="1092.00" cy="296.01" r="7.2"/>
<circle cx="1092.57" cy="289.15" r="7.2"/>
<circle cx="1093.15" cy="280.41" r="7.2"/>
<circle cx="1093.73" cy="286.65" r="7.2"/>
<circle cx="1094.31" cy="282.90" r="7.2"/>
<circle cx="1094.88" cy="294.76" r="7.2"/>
<circle cx="1095.46" cy="286.65" r="7.2"/>
<circle cx="1096.04" cy="274.16" r="7.2"/>
<circle cx="1096.61" cy="296.64" r="7.2"/>
<circle cx="1097.19" cy="272.92" r="7.2"/>
<circle cx="1097.77" cy="276.04" r="7.2"/>
<circle cx="1098.34" cy="279.78" r="7.2"/>
<circle cx="1098.92" cy="276.04" r="7.2"/>
<circle cx="1099.50" cy="268.55" r="7.2"/>
<circle cx="1100.07" cy="279.78" r="7.2"/>
<circle cx="1100.65" cy="286.65" r="7.2"/>
<circle cx="1101.23" cy="294.76" r="7.2"/>
<circle cx="1101.81" cy="271.04" r="7.2"/>
<circle cx="1102.38" cy="287.27" r="7.2"/>
<circle cx="1102.96" cy="282.90" r="7.2"/>
<circle cx="1103.54" cy="268.55" r="7.2"/>
<circle cx="1104.11" cy="284.78" r="7.2"/>
<circle cx="1104.69" cy="279.78" r="7.2"/>
<circle cx="1105.27" cy="286.02" r="7.2"/>
<circle cx="1105.84" cy="284.78" r="7.2"/>
<circle cx="1106.42" cy="286.02" r="7.2"/>
<circle cx="1107.00" cy="275.41" r="7.2"/>
<circle cx="1107.58" cy="278.53" r="7.2"/>
<circle cx="1108.15" cy="281.65" r="7.2"/>
<circle cx="1108.73" cy="277.91" r="7.2"/>
<circle cx="1109.31" cy="287.90" r="7.2"/>
<circle cx="1109.88" cy="292.27" r="7.2"/>
<circle cx="1110.46" cy="279.78" r="7.2"/>
<circle cx="1111.04" cy="265.43" r="7.2"/>
<circle cx="1111.61" cy="274.16" r="7.2"/>
<circle cx="1112.19" cy="282.28" r="7.2"/>
<circle cx="1112.77" cy="281.65" r="7.2"/>
<circle cx="1113.34" cy="289.77" r="7.2"/>
<circle cx="1113.92" cy="283.53" r="7.2"/>
<circle cx="1114.50" cy="282.90" r="7.2"/>
<circle cx="1115.08" cy="274.16" r="7.2"/>
<circle cx="1115.65" cy="291.64" r="7.2"/>
<circle cx="1116.23" cy="259.18" r="7.2"/>
<circle cx="1116.81" cy="279.78" r="7.2"/>
<circle cx="1117.38" cy="272.92" r="7.2"/>
<circle cx="1117.96" cy="283.53" r="7.2"/>
<circle cx="1118.54" cy="273.54" r="7.2"/>
<circle cx="1119.11" cy="289.15" r="7.2"/>
<circle cx="1119.69" cy="260.43" r="7.2"/>
<circle cx="1120.27" cy="259.18" r="7.2"/>
<circle cx="1120.85" cy="277.29" r="7.2"/>
<circle cx="1121.42" cy="290.39" r="7.2"/>
<circle cx="1122.00" cy="277.91" r="7.2"/>
<circle cx="1122.58" cy="269.17" r="7.2"/>
<circle cx="1123.15" cy="278.53" r="7.2"/>
<circle cx="1123.73" cy="272.92" r="7.2"/>
<circle cx="1124.31" cy="291.02" r="7.2"/>
<circle cx="1124.88" cy="271.04" r="7.2"/>
<circle cx="1125.46" cy="272.29" r="7.2"/>
<circle cx="1126.04" cy="271.67" r="7.2"/>
<circle cx="1126.61" cy="271.04" r="7.2"/>
<circle cx="1127.19" cy="261.06" r="7.2"/>
<circle cx="1127.77" cy="266.67" r="7.2"/>
<circle cx="1128.35" cy="268.55" r="7.2"/>
<circle cx="1128.92" cy="276.66" r="7.2"/>
<circle cx="1129.50" cy="274.79" r="7.2"/>
<circle cx="1130.08" cy="282.28" r="7.2"/>
<circle cx="1130.65" cy="251.69" r="7.2"/>
<circle cx="1131.23" cy="271.04" r="7.2"/>
<circle cx="1131.81" cy="282.28" r="7.2"/>
<circle cx="1132.38" cy="259.18" r="7.2"/>
<circle cx="1132.96" cy="262.30" r="7.2"/>
<circle cx="1133.54" cy="270.42" r="7.2"/>
<circle cx="1134.12" cy="276.04" r="7.2"/>
<circle cx="1134.69" cy="269.79" r="7.2"/>
<circle cx="1135.27" cy="278.53" r="7.2"/>
<circle cx="1135.85" cy="262.30" r="7.2"/>
<circle cx="1136.42" cy="275.41" r="7.2"/>
<circle cx="1137.00" cy="266.67" r="7.2"/>
<circle cx="1137.58" cy="271.04" r="7.2"/>
<circle cx="1138.15" cy="266.05" r="7.2"/>
<circle cx="1138.73" cy="269.79" r="7.2"/>
<circle cx="1139.31" cy="265.43" r="7.2"/>
<circle cx="1139.88" cy="281.03" r="7.2"/>
<circle cx="1140.46" cy="262.93" r="7.2"/>
<circle cx="1141.04" cy="267.92" r="7.2"/>
<circle cx="1141.62" cy="254.81" r="7.2"/>
<circle cx="1142.19" cy="267.92" r="7.2"/>
<circle cx="1142.77" cy="269.79" r="7.2"/>
<circle cx="1143.35" cy="261.68" r="7.2"/>
<circle cx="1143.92" cy="269.79" r="7.2"/>
<circle cx="1144.50" cy="264.18" r="7.2"/>
<circle cx="1145.08" cy="259.81" r="7.2"/>
<circle cx="1145.65" cy="262.30" r="7.2"/>
<circle cx="1146.23" cy="257.94" r="7.2"/>
<circle cx="1146.81" cy="264.18" r="7.2"/>
<circle cx="1147.39" cy="257.31" r="7.2"/>
<circle cx="1147.96" cy="275.41" r="7.2"/>
<circle cx="1148.54" cy="264.18" r="7.2"/>
<circle cx="1149.12" cy="255.44" r="7.2"/>
<circle cx="1149.69" cy="276.04" r="7.2"/>
<circle cx="1150.27" cy="269.17" r="7.2"/>
<circle cx="1150.85" cy="284.15" r="7.2"/>
<circle cx="1151.42" cy="270.42" r="7.2"/>
<circle cx="1152.00" cy="259.81" r="7.2"/>
<circle cx="1152.58" cy="260.43" r="7.2"/>
<circle cx="1153.15" cy="271.04" r="7.2"/>
<circle cx="1153.73" cy="271.67" r="7.2"/>
<circle cx="1154.31" cy="276.66" r="7.2"/>
<circle cx="1154.89" cy="249.82" r="7.2"/>
<circle cx="1155.46" cy="266.05" r="7.2"/>
<circle cx="1156.04" cy="270.42" r="7.2"/>
<circle cx="1156.62" cy="278.53" r="7.2"/>
<circle cx="1157.19" cy="267.92" r="7.2"/>
<circle cx="1157.77" cy="262.93" r="7.2"/>
<circle cx="1158.35" cy="263.55" r="7.2"/>
<circle cx="1158.92" cy="267.92" r="7.2"/>
<circle cx="1159.50" cy="259.81" r="7.2"/>
<circle cx="1160.08" cy="262.93" r="7.2"/>
<circle cx="1160.66" cy="258.56" r="7.2"/>
<circle cx="1161.23" cy="262.93" r="7.2"/>
<circle cx="1161.81" cy="265.43" r="7.2"/>
<circle cx="1162.39" cy="261.06" r="7.2"/>
<circle cx="1162.96" cy="259.18" r="7.2"/>
<circle cx="1163.54" cy="269.79" r="7.2"/>
<circle cx="1164.12" cy="257.31" r="7.2"/>
<circle cx="1164.69" cy="261.68" r="7.2"/>
<circle cx="1165.27" cy="269.17" r="7.2"/>
<circle cx="1165.85" cy="267.30" r="7.2"/>
<circle cx="1166.43" cy="282.28" r="7.2"/>
<circle cx="1167.00" cy="269.17" r="7.2"/>
<circle cx="1167.58" cy="265.43" r="7.2"/>
<circle cx="1168.16" cy="269.17" r="7.2"/>
<circle cx="1168.73" cy="271.04" r="7.2"/>
<circle cx="1169.31" cy="267.92" r="7.2"/>
<circle cx="1169.89" cy="272.92" r="7.2"/>
<circle cx="1170.46" cy="264.18" r="7.2"/>
<circle cx="1171.04" cy="257.94" r="7.2"/>
<circle cx="1171.62" cy="253.57" r="7.2"/>
<circle cx="1172.19" cy="251.69" r="7.2"/>
<circle cx="1172.77" cy="256.06" r="7.2"/>
<circle cx="1173.35" cy="255.44" r="7.2"/>
<circle cx="1173.93" cy="252.32" r="7.2"/>
<circle cx="1174.50" cy="272.29" r="7.2"/>
<circle cx="1175.08" cy="260.43" r="7.2"/>
<circle cx="1175.66" cy="271.04" r="7.2"/>
<circle cx="1176.23" cy="261.06" r="7.2"/>
<circle cx="1176.81" cy="267.30" r="7.2"/>
<circle cx="1177.39" cy="259.18" r="7.2"/>
<circle cx="1177.96" cy="256.69" r="7.2"/>
<circle cx="1178.54" cy="252.94" r="7.2"/>
<circle cx="1179.12" cy="259.18" r="7.2"/>
<circle cx="1179.70" cy="259.18" r="7.2"/>
<circle cx="1180.27" cy="264.18" r="7.2"/>
<circle cx="1180.85" cy="262.30" r="7.2"/>
<circle cx="1181.43" cy="263.55" r="7.2"/>
<circle cx="1182.00" cy="261.06" r="7.2"/>
<circle cx="1182.58" cy="261.06" r="7.2"/>
<circle cx="1183.16" cy="271.67" r="7.2"/>
<circle cx="1183.73" cy="259.81" r="7.2"/>
<circle cx="1184.31" cy="254.19" r="7.2"/>
<circle cx="1184.89" cy="259.81" r="7.2"/>
<circle cx="1185.46" cy="249.20" r="7.2"/>
<circle cx="1186.04" cy="266.67" r="7.2"/>
<circle cx="1186.62" cy="269.79" r="7.2"/>
<circle cx="1187.20" cy="251.69" r="7.2"/>
<circle cx="1187.77" cy="255.44" r="7.2"/>
<circle cx="1188.35" cy="266.05" r="7.2"/>
<circle cx="1188.93" cy="264.18" r="7.2"/>
<circle cx="1189.50" cy="253.57" r="7.2"/>
<circle cx="1190.08" cy="256.06" r="7.2"/>
<circle cx="1190.66" cy="256.69" r="7.2"/>
<circle cx="1191.23" cy="261.06" r="7.2"/>
<circle cx="1191.81" cy="260.43" r="7.2"/>
<circle cx="1192.39" cy="264.80" r="7.2"/>
<circle cx="1192.97" cy="252.32" r="7.2"/>
<circle cx="1193.54" cy="252.94" r="7.2"/>
<circle cx="1194.12" cy="240.46" r="7.2"/>
<circle cx="1194.70" cy="257.31" r="7.2"/>
<circle cx="1195.27" cy="246.08" r="7.2"/>
<circle cx="1195.85" cy="249.20" r="7.2"/>
<circle cx="1196.43" cy="251.69" r="7.2"/>
<circle cx="1197.00" cy="253.57" r="7.2"/>
<circle cx="1197.58" cy="256.06" r="7.2"/>
<circle cx="1198.16" cy="249.20" r="7.2"/>
<circle cx="1198.73" cy="267.30" r="7.2"/>
<circle cx="1199.31" cy="251.69" r="7.2"/>
<circle cx="1199.89" cy="251.07" r="7.2"/>
<circle cx="1200.47" cy="255.44" r="7.2"/>
<circle cx="1201.04" cy="255.44" r="7.2"/>
<circle cx="1201.62" cy="236.71" r="7.2"/>
<circle cx="1202.20" cy="268.55" r="7.2"/>
<circle cx="1202.77" cy="250.44" r="7.2"/>
<circle cx="1203.35" cy="258.56" r="7.2"/>
<circle cx="1203.93" cy="237.34" r="7.2"/>
<circle cx="1204.50" cy="257.31" r="7.2"/>
<circle cx="1205.08" cy="256.06" r="7.2"/>
<circle cx="1205.66" cy="255.44" r="7.2"/>
<circle cx="1206.24" cy="244.20" r="7.2"/>
<circle cx="1206.81" cy="269.79" r="7.2"/>
<circle cx="1207.39" cy="254.81" r="7.2"/>
<circle cx="1207.97" cy="241.08" r="7.2"/>
<circle cx="1208.54" cy="244.20" r="7.2"/>
<circle cx="1209.12" cy="253.57" r="7.2"/>
<circle cx="1209.70" cy="243.58" r="7.2"/>
<circle cx="1210.27" cy="246.70" r="7.2"/>
<circle cx="1210.85" cy="250.44" r="7.2"/>
<circle cx="1211.43" cy="251.07" r="7.2"/>
<circle cx="1212.00" cy="241.71" r="7.2"/>
<circle cx="1212.58" cy="249.82" r="7.2"/>
<circle cx="1213.16" cy="254.81" r="7.2"/>
<circle cx="1213.74" cy="237.96" r="7.2"/>
<circle cx="1214.31" cy="244.20" r="7.2"/>
<circle cx="1214.89" cy="251.69" r="7.2"/>
<circle cx="1215.47" cy="259.81" r="7.2"/>
<circle cx="1216.04" cy="243.58" r="7.2"/>
<circle cx="1216.62" cy="256.69" r="7.2"/>
<circle cx="1217.20" cy="251.07" r="7.2"/>
<circle cx="1217.77" cy="253.57" r="7.2"/>
<circle cx="1218.35" cy="256.06" r="7.2"/>
<circle cx="1218.93" cy="244.83" r="7.2"/>
<circle cx="1219.51" cy="248.57" r="7.2"/>
<circle cx="1220.08" cy="247.32" r="7.2"/>
<circle cx="1220.66" cy="250.44" r="7.2"/>
<circle cx="1221.24" cy="254.19" r="7.2"/>
<circle cx="1221.81" cy="246.08" r="7.2"/>
<circle cx="1222.39" cy="239.83" r="7.2"/>
</g>
<g fill="none" stroke="#000" stroke-width="2" stroke-linecap="round" stroke-linejoin="round">
<path d="M186.17 764.16H1167.00"/>
<path d="M186.17 764.16v19.2M243.87 764.16v19.2M301.56 764.16v19.2M359.26 764.16v19.2M416.95 764.16v19.2M474.65 764.16v19.2M532.35 764.16v19.2M590.04 764.16v19.2M647.74 764.16v19.2M705.43 764.16v19.2M763.13 764.16v19.2M820.83 764.16v19.2M878.52 764.16v19.2M936.22 764.16v19.2M993.91 764.16v19.2M1051.61 764.16v19.2M1109.31 764.16v19.2M1167.00 764.16v19.2"/>
<path d="M157.44 741.69V179.91"/>
<path d="M157.44 741.69h-19.2M157.44 685.51h-19.2M157.44 629.33h-19.2M157.44 573.16h-19.2M157.44 516.98h-19.2M157.44 460.80h-19.2M157.44 404.62h-19.2M157.44 348.44h-19.2M157.44 292.27h-19.2M157.44 236.09h-19.2M157.44 179.91h-19.2"/>
</g>
<g text-anchor="middle">
<text transform="translate(186.17 833.1) scale(1.006 1.050)">0</text>
<text transform="translate(301.56 833.1) scale(1.006 1.050)">200</text>
<text transform="translate(416.95 833.1) scale(1.006 1.050)">400</text>
<text transform="translate(532.35 833.1) scale(1.006 1.050)">600</text>
<text transform="translate(647.74 833.1) scale(1.006 1.050)">800</text>
<text transform="translate(763.13 833.1) scale(1.006 1.050)">1000</text>
<text transform="translate(878.52 833.1) scale(1.006 1.050)">1200</text>
<text transform="translate(993.91 833.1) scale(1.006 1.050)">1400</text>
<text transform="translate(1109.31 833.1) scale(1.006 1.050)">1600</text>
<text transform="translate(710.7 909.9) scale(1.012 1.050)">Number of coin-tosses</text>
<text transform="translate(111.3 741.69) rotate(-90) scale(1.006 1.050)">0.0</text>
<text transform="translate(111.3 629.33) rotate(-90) scale(1.006 1.050)">0.2</text>
<text transform="translate(111.3 516.98) rotate(-90) scale(1.006 1.050)">0.4</text>
<text transform="translate(111.3 404.62) rotate(-90) scale(1.006 1.050)">0.6</text>
<text transform="translate(111.3 292.27) rotate(-90) scale(1.006 1.050)">0.8</text>
<text transform="translate(111.3 179.91) rotate(-90) scale(1.006 1.050)">1.0</text>
<text transform="translate(35.1 460.80) rotate(-90) scale(1 1.050)">Power</text>
</g>
<g fill="#fff">
<rect x="728.53" y="829.8" width="6.86" height="4.4"/>
<rect x="738.22" y="829.8" width="6.51" height="4.4"/>
<rect x="843.92" y="829.8" width="6.86" height="4.4"/>
<rect x="853.61" y="829.8" width="6.51" height="4.4"/>
<rect x="959.31" y="829.8" width="6.86" height="4.4"/>
<rect x="969.00" y="829.8" width="6.51" height="4.4"/>
<rect x="1074.71" y="829.8" width="6.86" height="4.4"/>
<rect x="1084.40" y="829.8" width="6.51" height="4.4"/>
<rect x="107.9" y="184.8" width="4" height="6.47"/>
<rect x="107.9" y="194.25" width="4" height="6.55"/>
</g>
</svg>
</body></html>
